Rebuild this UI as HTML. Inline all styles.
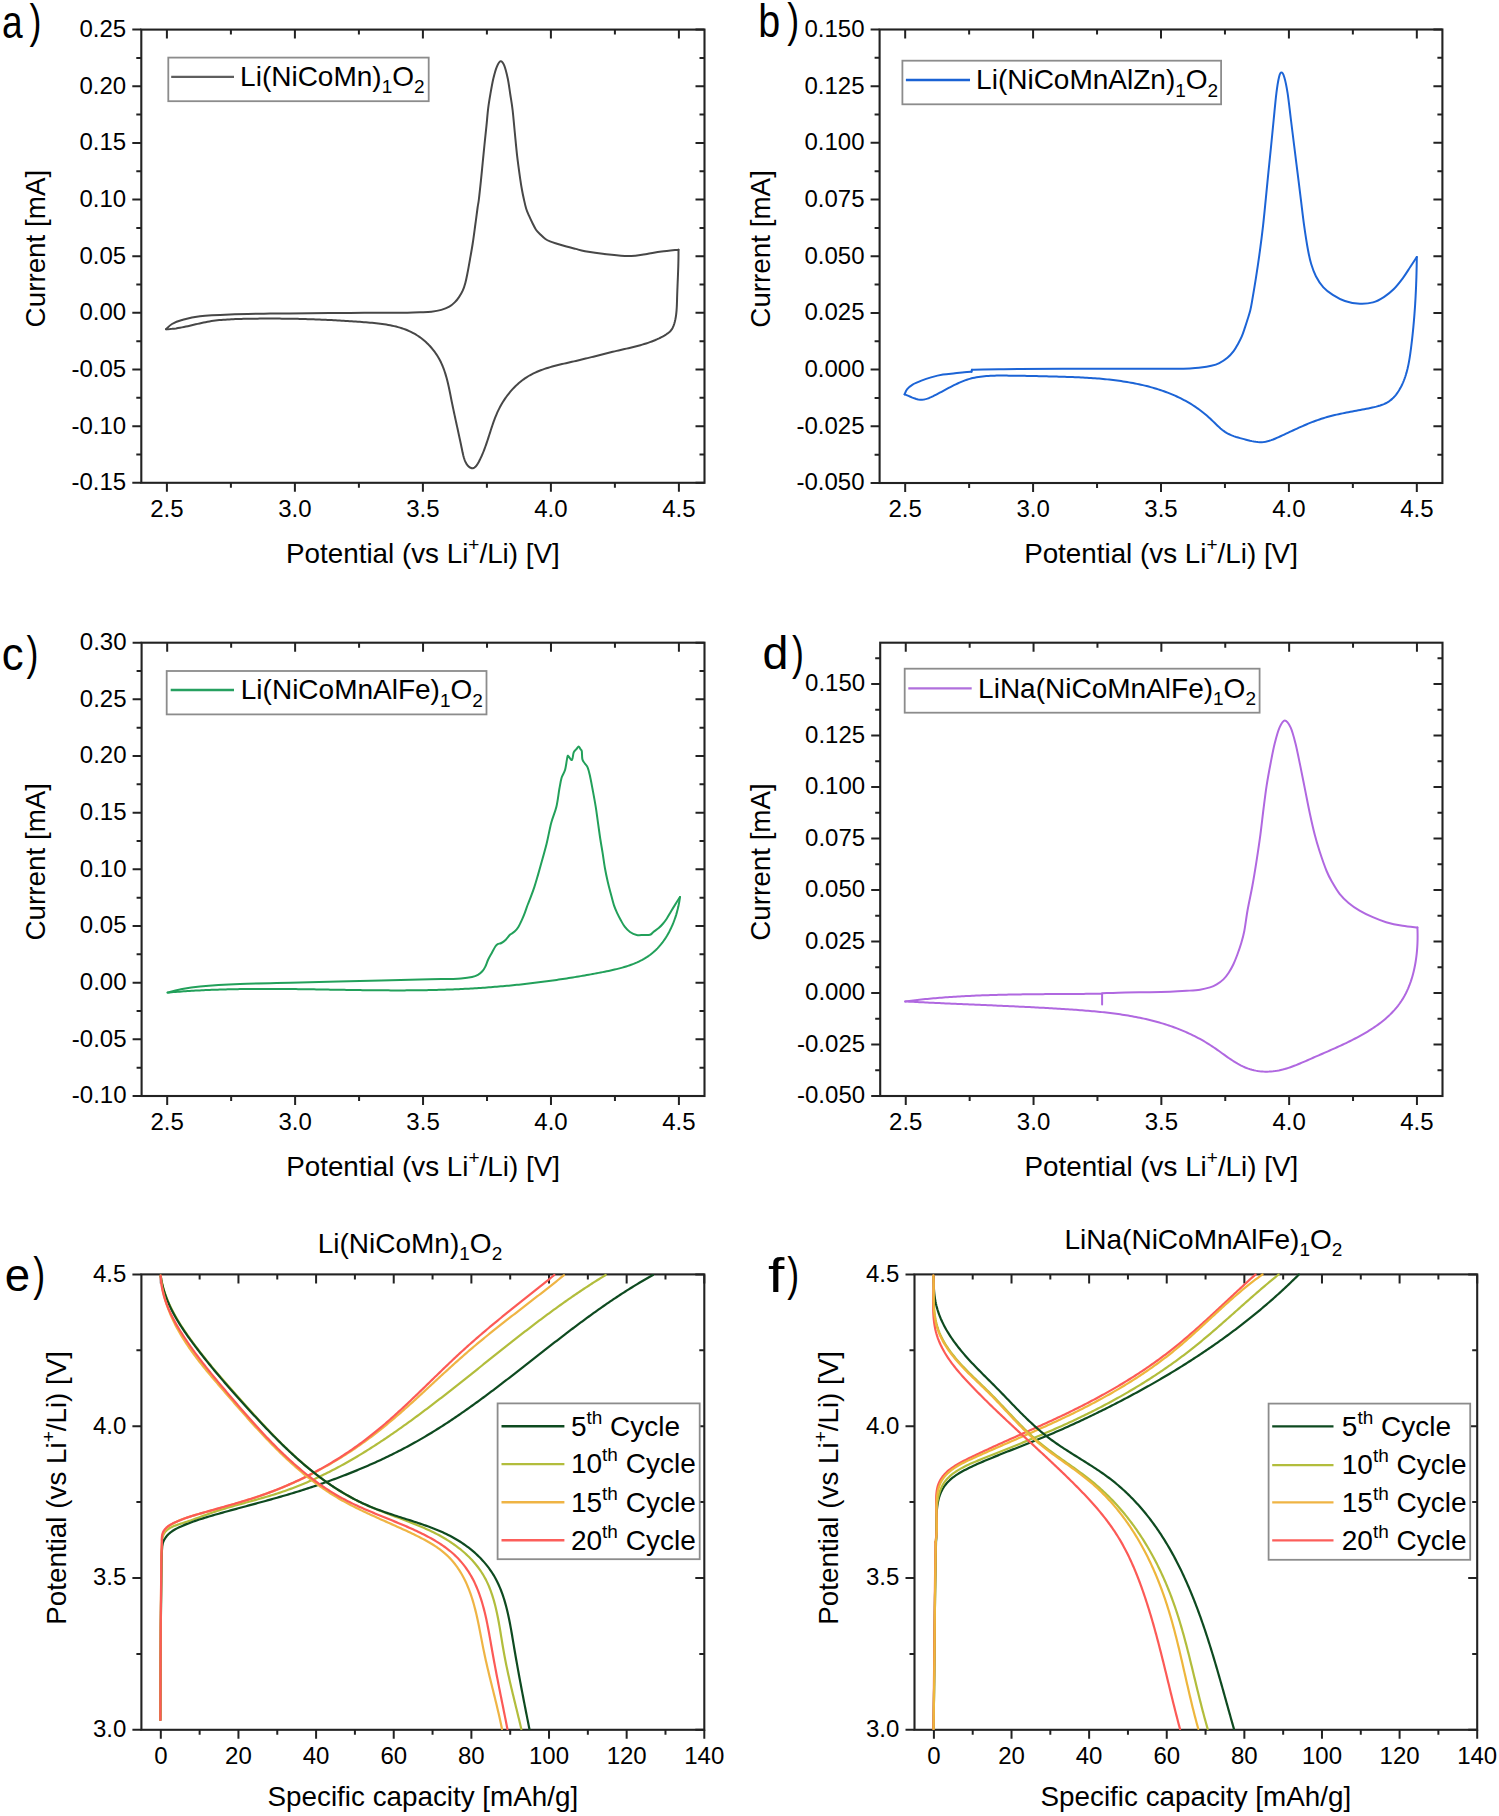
<!DOCTYPE html>
<html><head><meta charset="utf-8"><style>
html,body{margin:0;padding:0;background:#fff;}
svg{display:block;}
text{font-family:"Liberation Sans", sans-serif;fill:#000;}
</style></head><body>
<svg width="1499" height="1816" viewBox="0 0 1499 1816">
<path d="M166.90 482.80V491.80M166.90 29.60V38.60M294.90 482.80V491.80M294.90 29.60V38.60M422.90 482.80V491.80M422.90 29.60V38.60M550.90 482.80V491.80M550.90 29.60V38.60M678.90 482.80V491.80M678.90 29.60V38.60M230.90 482.80V487.80M230.90 29.60V34.60M358.90 482.80V487.80M358.90 29.60V34.60M486.90 482.80V487.80M486.90 29.60V34.60M614.90 482.80V487.80M614.90 29.60V34.60M141.30 482.80H132.30M704.50 482.80H695.50M141.30 454.48H136.30M704.50 454.48H699.50M141.30 426.15H132.30M704.50 426.15H695.50M141.30 397.82H136.30M704.50 397.82H699.50M141.30 369.50H132.30M704.50 369.50H695.50M141.30 341.18H136.30M704.50 341.18H699.50M141.30 312.85H132.30M704.50 312.85H695.50M141.30 284.52H136.30M704.50 284.52H699.50M141.30 256.20H132.30M704.50 256.20H695.50M141.30 227.88H136.30M704.50 227.88H699.50M141.30 199.55H132.30M704.50 199.55H695.50M141.30 171.23H136.30M704.50 171.23H699.50M141.30 142.90H132.30M704.50 142.90H695.50M141.30 114.58H136.30M704.50 114.58H699.50M141.30 86.25H132.30M704.50 86.25H695.50M141.30 57.93H136.30M704.50 57.93H699.50M141.30 29.60H132.30M704.50 29.60H695.50" stroke="#222222" stroke-width="2" fill="none"/>
<rect x="141.30" y="29.60" width="563.20" height="453.20" stroke="#222222" stroke-width="2.1" fill="none"/>
<text x="166.90" y="516.80" text-anchor="middle" font-size="24">2.5</text>
<text x="294.90" y="516.80" text-anchor="middle" font-size="24">3.0</text>
<text x="422.90" y="516.80" text-anchor="middle" font-size="24">3.5</text>
<text x="550.90" y="516.80" text-anchor="middle" font-size="24">4.0</text>
<text x="678.90" y="516.80" text-anchor="middle" font-size="24">4.5</text>
<text x="126.20" y="490.20" text-anchor="end" font-size="24">-0.15</text>
<text x="126.20" y="433.55" text-anchor="end" font-size="24">-0.10</text>
<text x="126.20" y="376.90" text-anchor="end" font-size="24">-0.05</text>
<text x="126.20" y="320.25" text-anchor="end" font-size="24">0.00</text>
<text x="126.20" y="263.60" text-anchor="end" font-size="24">0.05</text>
<text x="126.20" y="206.95" text-anchor="end" font-size="24">0.10</text>
<text x="126.20" y="150.30" text-anchor="end" font-size="24">0.15</text>
<text x="126.20" y="93.65" text-anchor="end" font-size="24">0.20</text>
<text x="126.20" y="37.00" text-anchor="end" font-size="24">0.25</text>
<path d="M905.18 483.00V492.00M905.18 29.50V38.50M1033.09 483.00V492.00M1033.09 29.50V38.50M1161.00 483.00V492.00M1161.00 29.50V38.50M1288.91 483.00V492.00M1288.91 29.50V38.50M1416.82 483.00V492.00M1416.82 29.50V38.50M969.14 483.00V488.00M969.14 29.50V34.50M1097.05 483.00V488.00M1097.05 29.50V34.50M1224.95 483.00V488.00M1224.95 29.50V34.50M1352.86 483.00V488.00M1352.86 29.50V34.50M879.60 483.00H870.60M1442.40 483.00H1433.40M879.60 454.66H874.60M1442.40 454.66H1437.40M879.60 426.31H870.60M1442.40 426.31H1433.40M879.60 397.97H874.60M1442.40 397.97H1437.40M879.60 369.62H870.60M1442.40 369.62H1433.40M879.60 341.28H874.60M1442.40 341.28H1437.40M879.60 312.94H870.60M1442.40 312.94H1433.40M879.60 284.59H874.60M1442.40 284.59H1437.40M879.60 256.25H870.60M1442.40 256.25H1433.40M879.60 227.91H874.60M1442.40 227.91H1437.40M879.60 199.56H870.60M1442.40 199.56H1433.40M879.60 171.22H874.60M1442.40 171.22H1437.40M879.60 142.87H870.60M1442.40 142.87H1433.40M879.60 114.53H874.60M1442.40 114.53H1437.40M879.60 86.19H870.60M1442.40 86.19H1433.40M879.60 57.84H874.60M1442.40 57.84H1437.40M879.60 29.50H870.60M1442.40 29.50H1433.40" stroke="#222222" stroke-width="2" fill="none"/>
<rect x="879.60" y="29.50" width="562.80" height="453.50" stroke="#222222" stroke-width="2.1" fill="none"/>
<text x="905.18" y="517.00" text-anchor="middle" font-size="24">2.5</text>
<text x="1033.09" y="517.00" text-anchor="middle" font-size="24">3.0</text>
<text x="1161.00" y="517.00" text-anchor="middle" font-size="24">3.5</text>
<text x="1288.91" y="517.00" text-anchor="middle" font-size="24">4.0</text>
<text x="1416.82" y="517.00" text-anchor="middle" font-size="24">4.5</text>
<text x="864.50" y="490.40" text-anchor="end" font-size="24">-0.050</text>
<text x="864.50" y="433.71" text-anchor="end" font-size="24">-0.025</text>
<text x="864.50" y="377.02" text-anchor="end" font-size="24">0.000</text>
<text x="864.50" y="320.34" text-anchor="end" font-size="24">0.025</text>
<text x="864.50" y="263.65" text-anchor="end" font-size="24">0.050</text>
<text x="864.50" y="206.96" text-anchor="end" font-size="24">0.075</text>
<text x="864.50" y="150.27" text-anchor="end" font-size="24">0.100</text>
<text x="864.50" y="93.59" text-anchor="end" font-size="24">0.125</text>
<text x="864.50" y="36.90" text-anchor="end" font-size="24">0.150</text>
<path d="M167.19 1096.00V1105.00M167.19 642.70V651.70M295.12 1096.00V1105.00M295.12 642.70V651.70M423.05 1096.00V1105.00M423.05 642.70V651.70M550.98 1096.00V1105.00M550.98 642.70V651.70M678.91 1096.00V1105.00M678.91 642.70V651.70M231.15 1096.00V1101.00M231.15 642.70V647.70M359.08 1096.00V1101.00M359.08 642.70V647.70M487.02 1096.00V1101.00M487.02 642.70V647.70M614.95 1096.00V1101.00M614.95 642.70V647.70M141.60 1096.00H132.60M704.50 1096.00H695.50M141.60 1067.67H136.60M704.50 1067.67H699.50M141.60 1039.34H132.60M704.50 1039.34H695.50M141.60 1011.01H136.60M704.50 1011.01H699.50M141.60 982.67H132.60M704.50 982.67H695.50M141.60 954.34H136.60M704.50 954.34H699.50M141.60 926.01H132.60M704.50 926.01H695.50M141.60 897.68H136.60M704.50 897.68H699.50M141.60 869.35H132.60M704.50 869.35H695.50M141.60 841.02H136.60M704.50 841.02H699.50M141.60 812.69H132.60M704.50 812.69H695.50M141.60 784.36H136.60M704.50 784.36H699.50M141.60 756.02H132.60M704.50 756.02H695.50M141.60 727.69H136.60M704.50 727.69H699.50M141.60 699.36H132.60M704.50 699.36H695.50M141.60 671.03H136.60M704.50 671.03H699.50M141.60 642.70H132.60M704.50 642.70H695.50" stroke="#222222" stroke-width="2" fill="none"/>
<rect x="141.60" y="642.70" width="562.90" height="453.30" stroke="#222222" stroke-width="2.1" fill="none"/>
<text x="167.19" y="1130.00" text-anchor="middle" font-size="24">2.5</text>
<text x="295.12" y="1130.00" text-anchor="middle" font-size="24">3.0</text>
<text x="423.05" y="1130.00" text-anchor="middle" font-size="24">3.5</text>
<text x="550.98" y="1130.00" text-anchor="middle" font-size="24">4.0</text>
<text x="678.91" y="1130.00" text-anchor="middle" font-size="24">4.5</text>
<text x="126.50" y="1103.40" text-anchor="end" font-size="24">-0.10</text>
<text x="126.50" y="1046.74" text-anchor="end" font-size="24">-0.05</text>
<text x="126.50" y="990.07" text-anchor="end" font-size="24">0.00</text>
<text x="126.50" y="933.41" text-anchor="end" font-size="24">0.05</text>
<text x="126.50" y="876.75" text-anchor="end" font-size="24">0.10</text>
<text x="126.50" y="820.09" text-anchor="end" font-size="24">0.15</text>
<text x="126.50" y="763.42" text-anchor="end" font-size="24">0.20</text>
<text x="126.50" y="706.76" text-anchor="end" font-size="24">0.25</text>
<text x="126.50" y="650.10" text-anchor="end" font-size="24">0.30</text>
<path d="M905.76 1096.00V1105.00M905.76 642.70V651.70M1033.55 1096.00V1105.00M1033.55 642.70V651.70M1161.35 1096.00V1105.00M1161.35 642.70V651.70M1289.15 1096.00V1105.00M1289.15 642.70V651.70M1416.94 1096.00V1105.00M1416.94 642.70V651.70M969.66 1096.00V1101.00M969.66 642.70V647.70M1097.45 1096.00V1101.00M1097.45 642.70V647.70M1225.25 1096.00V1101.00M1225.25 642.70V647.70M1353.04 1096.00V1101.00M1353.04 642.70V647.70M880.20 1096.00H871.20M1442.50 1096.00H1433.50M880.20 1070.24H875.20M1442.50 1070.24H1437.50M880.20 1044.49H871.20M1442.50 1044.49H1433.50M880.20 1018.73H875.20M1442.50 1018.73H1437.50M880.20 992.98H871.20M1442.50 992.98H1433.50M880.20 967.22H875.20M1442.50 967.22H1437.50M880.20 941.47H871.20M1442.50 941.47H1433.50M880.20 915.71H875.20M1442.50 915.71H1437.50M880.20 889.95H871.20M1442.50 889.95H1433.50M880.20 864.20H875.20M1442.50 864.20H1437.50M880.20 838.44H871.20M1442.50 838.44H1433.50M880.20 812.69H875.20M1442.50 812.69H1437.50M880.20 786.93H871.20M1442.50 786.93H1433.50M880.20 761.18H875.20M1442.50 761.18H1437.50M880.20 735.42H871.20M1442.50 735.42H1433.50M880.20 709.66H875.20M1442.50 709.66H1437.50M880.20 683.91H871.20M1442.50 683.91H1433.50M880.20 658.15H875.20M1442.50 658.15H1437.50" stroke="#222222" stroke-width="2" fill="none"/>
<rect x="880.20" y="642.70" width="562.30" height="453.30" stroke="#222222" stroke-width="2.1" fill="none"/>
<text x="905.76" y="1130.00" text-anchor="middle" font-size="24">2.5</text>
<text x="1033.55" y="1130.00" text-anchor="middle" font-size="24">3.0</text>
<text x="1161.35" y="1130.00" text-anchor="middle" font-size="24">3.5</text>
<text x="1289.15" y="1130.00" text-anchor="middle" font-size="24">4.0</text>
<text x="1416.94" y="1130.00" text-anchor="middle" font-size="24">4.5</text>
<text x="865.10" y="1103.40" text-anchor="end" font-size="24">-0.050</text>
<text x="865.10" y="1051.89" text-anchor="end" font-size="24">-0.025</text>
<text x="865.10" y="1000.38" text-anchor="end" font-size="24">0.000</text>
<text x="865.10" y="948.87" text-anchor="end" font-size="24">0.025</text>
<text x="865.10" y="897.35" text-anchor="end" font-size="24">0.050</text>
<text x="865.10" y="845.84" text-anchor="end" font-size="24">0.075</text>
<text x="865.10" y="794.33" text-anchor="end" font-size="24">0.100</text>
<text x="865.10" y="742.82" text-anchor="end" font-size="24">0.125</text>
<text x="865.10" y="691.31" text-anchor="end" font-size="24">0.150</text>
<path d="M160.81 1729.80V1738.80M160.81 1274.40V1283.40M238.45 1729.80V1738.80M238.45 1274.40V1283.40M316.09 1729.80V1738.80M316.09 1274.40V1283.40M393.73 1729.80V1738.80M393.73 1274.40V1283.40M471.38 1729.80V1738.80M471.38 1274.40V1283.40M549.02 1729.80V1738.80M549.02 1274.40V1283.40M626.66 1729.80V1738.80M626.66 1274.40V1283.40M704.30 1729.80V1738.80M704.30 1274.40V1283.40M199.63 1729.80V1734.80M199.63 1274.40V1279.40M277.27 1729.80V1734.80M277.27 1274.40V1279.40M354.91 1729.80V1734.80M354.91 1274.40V1279.40M432.56 1729.80V1734.80M432.56 1274.40V1279.40M510.20 1729.80V1734.80M510.20 1274.40V1279.40M587.84 1729.80V1734.80M587.84 1274.40V1279.40M665.48 1729.80V1734.80M665.48 1274.40V1279.40M141.40 1729.80H132.40M704.30 1729.80H695.30M141.40 1653.90H136.40M704.30 1653.90H699.30M141.40 1578.00H132.40M704.30 1578.00H695.30M141.40 1502.10H136.40M704.30 1502.10H699.30M141.40 1426.20H132.40M704.30 1426.20H695.30M141.40 1350.30H136.40M704.30 1350.30H699.30M141.40 1274.40H132.40M704.30 1274.40H695.30" stroke="#222222" stroke-width="2" fill="none"/>
<rect x="141.40" y="1274.40" width="562.90" height="455.40" stroke="#222222" stroke-width="2.1" fill="none"/>
<text x="160.81" y="1763.80" text-anchor="middle" font-size="24">0</text>
<text x="238.45" y="1763.80" text-anchor="middle" font-size="24">20</text>
<text x="316.09" y="1763.80" text-anchor="middle" font-size="24">40</text>
<text x="393.73" y="1763.80" text-anchor="middle" font-size="24">60</text>
<text x="471.38" y="1763.80" text-anchor="middle" font-size="24">80</text>
<text x="549.02" y="1763.80" text-anchor="middle" font-size="24">100</text>
<text x="626.66" y="1763.80" text-anchor="middle" font-size="24">120</text>
<text x="704.30" y="1763.80" text-anchor="middle" font-size="24">140</text>
<text x="126.30" y="1737.20" text-anchor="end" font-size="24">3.0</text>
<text x="126.30" y="1585.40" text-anchor="end" font-size="24">3.5</text>
<text x="126.30" y="1433.60" text-anchor="end" font-size="24">4.0</text>
<text x="126.30" y="1281.80" text-anchor="end" font-size="24">4.5</text>
<path d="M933.90 1729.80V1738.80M933.90 1274.40V1283.40M1011.52 1729.80V1738.80M1011.52 1274.40V1283.40M1089.13 1729.80V1738.80M1089.13 1274.40V1283.40M1166.74 1729.80V1738.80M1166.74 1274.40V1283.40M1244.36 1729.80V1738.80M1244.36 1274.40V1283.40M1321.97 1729.80V1738.80M1321.97 1274.40V1283.40M1399.59 1729.80V1738.80M1399.59 1274.40V1283.40M1477.20 1729.80V1738.80M1477.20 1274.40V1283.40M972.71 1729.80V1734.80M972.71 1274.40V1279.40M1050.32 1729.80V1734.80M1050.32 1274.40V1279.40M1127.94 1729.80V1734.80M1127.94 1274.40V1279.40M1205.55 1729.80V1734.80M1205.55 1274.40V1279.40M1283.17 1729.80V1734.80M1283.17 1274.40V1279.40M1360.78 1729.80V1734.80M1360.78 1274.40V1279.40M1438.39 1729.80V1734.80M1438.39 1274.40V1279.40M914.50 1729.80H905.50M1477.20 1729.80H1468.20M914.50 1653.90H909.50M1477.20 1653.90H1472.20M914.50 1578.00H905.50M1477.20 1578.00H1468.20M914.50 1502.10H909.50M1477.20 1502.10H1472.20M914.50 1426.20H905.50M1477.20 1426.20H1468.20M914.50 1350.30H909.50M1477.20 1350.30H1472.20M914.50 1274.40H905.50M1477.20 1274.40H1468.20" stroke="#222222" stroke-width="2" fill="none"/>
<rect x="914.50" y="1274.40" width="562.70" height="455.40" stroke="#222222" stroke-width="2.1" fill="none"/>
<text x="933.90" y="1763.80" text-anchor="middle" font-size="24">0</text>
<text x="1011.52" y="1763.80" text-anchor="middle" font-size="24">20</text>
<text x="1089.13" y="1763.80" text-anchor="middle" font-size="24">40</text>
<text x="1166.74" y="1763.80" text-anchor="middle" font-size="24">60</text>
<text x="1244.36" y="1763.80" text-anchor="middle" font-size="24">80</text>
<text x="1321.97" y="1763.80" text-anchor="middle" font-size="24">100</text>
<text x="1399.59" y="1763.80" text-anchor="middle" font-size="24">120</text>
<text x="1477.20" y="1763.80" text-anchor="middle" font-size="24">140</text>
<text x="899.40" y="1737.20" text-anchor="end" font-size="24">3.0</text>
<text x="899.40" y="1585.40" text-anchor="end" font-size="24">3.5</text>
<text x="899.40" y="1433.60" text-anchor="end" font-size="24">4.0</text>
<text x="899.40" y="1281.80" text-anchor="end" font-size="24">4.5</text>
<text x="422.90" y="562.50" text-anchor="middle" font-size="27.8">Potential (vs Li<tspan dy="-11.3" font-size="19">+</tspan><tspan dy="11.3">/Li) [V]</tspan></text>
<text x="1161.00" y="562.70" text-anchor="middle" font-size="27.8">Potential (vs Li<tspan dy="-11.3" font-size="19">+</tspan><tspan dy="11.3">/Li) [V]</tspan></text>
<text x="423.05" y="1175.70" text-anchor="middle" font-size="27.8">Potential (vs Li<tspan dy="-11.3" font-size="19">+</tspan><tspan dy="11.3">/Li) [V]</tspan></text>
<text x="1161.35" y="1175.70" text-anchor="middle" font-size="27.8">Potential (vs Li<tspan dy="-11.3" font-size="19">+</tspan><tspan dy="11.3">/Li) [V]</tspan></text>
<text x="422.85" y="1806.10" text-anchor="middle" font-size="27.8">Specific capacity [mAh/g]</text>
<text x="1195.85" y="1806.10" text-anchor="middle" font-size="27.8">Specific capacity [mAh/g]</text>
<text transform="translate(45.0,248.6) rotate(-90)" text-anchor="middle" font-size="27.8">Current [mA]</text>
<text transform="translate(769.6,248.9) rotate(-90)" text-anchor="middle" font-size="27.8">Current [mA]</text>
<text transform="translate(45.0,861.7) rotate(-90)" text-anchor="middle" font-size="27.8">Current [mA]</text>
<text transform="translate(769.6,862.0) rotate(-90)" text-anchor="middle" font-size="27.8">Current [mA]</text>
<text transform="translate(65.8,1487.8) rotate(-90)" text-anchor="middle" font-size="27.8">Potential (vs Li<tspan dy="-11.3" font-size="19">+</tspan><tspan dy="11.3">/Li) [V]</tspan></text>
<text transform="translate(838.4,1487.8) rotate(-90)" text-anchor="middle" font-size="27.8">Potential (vs Li<tspan dy="-11.3" font-size="19">+</tspan><tspan dy="11.3">/Li) [V]</tspan></text>
<text transform="translate(1.94,37.7) scale(0.79,1)" font-size="47">a</text>
<text transform="translate(29.39,37.0) scale(0.76,1)" font-size="47">)</text>
<text transform="translate(758.27,37.4) scale(0.84,1)" font-size="47">b</text>
<text transform="translate(787.29,36.2) scale(0.76,1)" font-size="47">)</text>
<text transform="translate(1.86,669.7) scale(0.93,1)" font-size="47">c</text>
<text transform="translate(26.49,668.5) scale(0.76,1)" font-size="47">)</text>
<text transform="translate(762.55,669.1) scale(0.99,1)" font-size="47">d</text>
<text transform="translate(792.09,668.5) scale(0.76,1)" font-size="47">)</text>
<text transform="translate(4.79,1290.9) scale(0.97,1)" font-size="47">e</text>
<text transform="translate(33.19,1290.3) scale(0.76,1)" font-size="47">)</text>
<text transform="translate(767.88,1292) scale(1.2,1)" font-size="49">f</text>
<text transform="translate(787.19,1290.3) scale(0.76,1)" font-size="47">)</text>
<text x="317.7" y="1252.8" font-size="28">Li(NiCoMn)<tspan dy="7.5" font-size="19">1</tspan><tspan dy="-7.5">O</tspan><tspan dy="7.5" font-size="19">2</tspan></text>
<text x="1064.5" y="1248.5" font-size="28">LiNa(NiCoMnAlFe)<tspan dy="7.5" font-size="19">1</tspan><tspan dy="-7.5">O</tspan><tspan dy="7.5" font-size="19">2</tspan></text>
<path d="M166.00 329.20 C167.00 328.33 169.33 325.53 172.00 324.00 C174.67 322.47 177.33 321.30 182.00 320.00 C186.67 318.70 192.00 317.13 200.00 316.20 C208.00 315.27 218.33 314.83 230.00 314.40 C241.67 313.97 256.67 313.80 270.00 313.60 C283.33 313.40 296.67 313.32 310.00 313.20 C323.33 313.08 336.67 312.97 350.00 312.90 C363.33 312.83 380.43 312.83 390.00 312.80 C399.57 312.77 402.40 312.78 407.40 312.70 C412.40 312.62 416.00 312.47 420.00 312.30 C424.00 312.13 427.85 312.10 431.40 311.70 C434.95 311.30 438.32 310.73 441.30 309.90 C444.28 309.07 447.07 307.95 449.30 306.70 C451.53 305.45 453.08 304.00 454.70 302.40 C456.32 300.80 457.67 299.05 459.00 297.10 C460.33 295.15 461.63 293.10 462.70 290.70 C463.77 288.30 464.62 285.57 465.40 282.70 C466.18 279.83 466.65 277.32 467.40 273.50 C468.15 269.68 469.02 264.80 469.90 259.80 C470.78 254.80 471.78 249.47 472.70 243.50 C473.62 237.53 474.58 230.00 475.40 224.00 C476.22 218.00 477.03 211.50 477.60 207.50 C478.17 203.50 478.25 204.43 478.80 200.00 C479.35 195.57 480.25 187.12 480.90 180.90 C481.55 174.68 482.10 168.77 482.70 162.70 C483.30 156.63 483.88 150.55 484.50 144.50 C485.12 138.45 485.78 132.45 486.40 126.40 C487.02 120.35 487.53 113.60 488.20 108.20 C488.87 102.80 489.55 98.90 490.40 94.00 C491.25 89.10 492.22 83.37 493.30 78.80 C494.38 74.23 495.68 69.53 496.90 66.60 C498.12 63.67 499.38 61.40 500.60 61.20 C501.82 61.00 503.00 62.47 504.20 65.40 C505.40 68.33 506.78 73.95 507.80 78.80 C508.82 83.65 509.50 89.30 510.30 94.50 C511.10 99.70 511.85 103.67 512.60 110.00 C513.35 116.33 514.05 124.90 514.80 132.50 C515.55 140.10 516.20 147.88 517.10 155.60 C518.00 163.32 519.38 173.07 520.20 178.80 C521.02 184.53 521.38 186.58 522.00 190.00 C522.62 193.42 523.20 196.18 523.90 199.30 C524.60 202.42 525.35 205.97 526.20 208.70 C527.05 211.43 527.98 213.37 529.00 215.70 C530.02 218.03 531.13 220.37 532.30 222.70 C533.47 225.03 534.60 227.68 536.00 229.70 C537.40 231.72 539.13 233.25 540.70 234.80 C542.27 236.35 543.85 237.90 545.40 239.00 C546.95 240.10 548.07 240.62 550.00 241.40 C551.93 242.18 554.27 242.85 557.00 243.70 C559.73 244.55 563.28 245.63 566.40 246.50 C569.52 247.37 572.60 248.12 575.70 248.90 C578.80 249.68 579.88 250.30 585.00 251.20 C590.12 252.10 599.77 253.50 606.40 254.30 C613.03 255.10 619.97 255.77 624.80 256.00 C629.63 256.23 631.70 256.03 635.40 255.70 C639.10 255.37 642.63 254.68 647.00 254.00 C651.37 253.32 656.35 252.32 661.60 251.60 C666.85 250.88 675.68 250.02 678.50 249.70" stroke="#474747" stroke-width="2" fill="none" stroke-linejoin="round" stroke-linecap="round"/>
<path d="M678.50 249.70 L678.51 251.73 L678.50 253.75 L678.49 255.77 L678.46 257.79 L678.43 259.80 L678.39 261.81 L678.34 263.81 L678.29 265.81 L678.23 267.82 L678.16 269.81 L678.09 271.81 L678.02 273.81 L677.94 275.80 L677.86 277.80 L677.78 279.80 L677.69 281.79 L677.61 283.79 L677.53 285.79 L677.45 287.80 L677.37 289.80 L677.30 291.81 L677.22 293.82 L677.16 295.84 L677.09 297.86 L677.04 299.89 L676.98 301.92 L676.91 303.95 L676.83 305.98 L676.72 308.01 L676.59 310.04 L676.41 312.06 L676.20 314.07 L675.93 316.08 L675.60 318.08 L675.21 320.06 L674.74 322.04 L674.19 323.99 L673.53 325.90 L672.73 327.72 L671.75 329.40 L670.56 330.91 L669.18 332.25 L667.64 333.45 L666.01 334.54 L664.32 335.57 L662.60 336.55 L660.86 337.48 L659.09 338.36 L657.30 339.20 L655.48 340.00 L653.64 340.76 L651.79 341.48 L649.91 342.17 L648.02 342.83 L646.11 343.46 L644.19 344.06 L642.26 344.64 L640.32 345.19 L638.36 345.73 L636.40 346.24 L634.43 346.74 L632.46 347.23 L630.48 347.70 L628.50 348.17 L626.51 348.63 L624.53 349.08 L622.55 349.53 L620.58 349.99 L618.60 350.44 L616.64 350.90 L614.68 351.36 L612.72 351.83 L610.77 352.31 L608.83 352.78 L606.89 353.26 L604.95 353.74 L603.02 354.23 L601.08 354.71 L599.15 355.20 L597.22 355.69 L595.29 356.18 L593.36 356.66 L591.43 357.15 L589.50 357.63 L587.57 358.11 L585.63 358.59 L583.69 359.07 L581.74 359.54 L579.80 360.01 L577.84 360.47 L575.88 360.93 L573.92 361.38 L571.95 361.83 L569.97 362.28 L567.99 362.72 L566.01 363.17 L564.03 363.62 L562.05 364.08 L560.07 364.54 L558.10 365.02 L556.13 365.51 L554.17 366.02 L552.21 366.55 L550.27 367.10 L548.34 367.68 L546.42 368.28 L544.52 368.91 L542.63 369.57 L540.76 370.26 L538.90 370.99 L537.07 371.76 L535.26 372.57 L533.47 373.42 L531.70 374.31 L529.96 375.26 L528.25 376.26 L526.56 377.31 L524.91 378.41 L523.29 379.56 L521.69 380.76 L520.13 382.02 L518.60 383.31 L517.11 384.65 L515.65 386.04 L514.22 387.46 L512.82 388.93 L511.47 390.43 L510.15 391.96 L508.86 393.53 L507.61 395.13 L506.40 396.76 L505.23 398.41 L504.10 400.10 L503.01 401.80 L501.96 403.53 L500.95 405.28 L499.99 407.05 L499.06 408.84 L498.18 410.64 L497.34 412.45 L496.54 414.28 L495.78 416.12 L495.04 417.97 L494.33 419.84 L493.65 421.71 L492.98 423.59 L492.34 425.48 L491.70 427.37 L491.08 429.27 L490.47 431.18 L489.86 433.09 L489.25 435.00 L488.64 436.92 L488.02 438.84 L487.39 440.76 L486.75 442.68 L486.09 444.60 L485.41 446.52 L484.71 448.43 L483.99 450.35 L483.23 452.25 L482.44 454.16 L481.61 456.05 L480.75 457.94 L479.84 459.83 L478.88 461.70 L477.87 463.50 L476.81 465.13 L475.68 466.52 L474.49 467.55 L473.22 468.15 L471.88 468.22 L470.49 467.79 L469.15 466.94 L467.92 465.79 L466.84 464.42 L465.91 462.85 L465.10 461.12 L464.39 459.25 L463.77 457.27 L463.23 455.21 L462.73 453.09 L462.28 450.94 L461.84 448.80 L461.40 446.68 L460.96 444.58 L460.53 442.51 L460.10 440.46 L459.66 438.43 L459.23 436.42 L458.80 434.43 L458.37 432.46 L457.94 430.50 L457.52 428.55 L457.09 426.61 L456.67 424.68 L456.25 422.76 L455.83 420.85 L455.41 418.94 L455.00 417.03 L454.58 415.13 L454.17 413.22 L453.76 411.31 L453.36 409.40 L452.95 407.48 L452.55 405.55 L452.15 403.62 L451.76 401.68 L451.36 399.72 L450.97 397.75 L450.58 395.77 L450.19 393.78 L449.78 391.79 L449.37 389.79 L448.95 387.79 L448.51 385.79 L448.06 383.79 L447.58 381.79 L447.08 379.81 L446.55 377.83 L446.00 375.86 L445.41 373.90 L444.79 371.96 L444.13 370.04 L443.43 368.14 L442.69 366.25 L441.90 364.40 L441.07 362.56 L440.18 360.76 L439.24 358.98 L438.24 357.24 L437.19 355.53 L436.09 353.85 L434.94 352.21 L433.74 350.60 L432.50 349.04 L431.21 347.51 L429.87 346.03 L428.49 344.58 L427.08 343.18 L425.62 341.83 L424.12 340.52 L422.59 339.26 L421.02 338.05 L419.41 336.89 L417.78 335.78 L416.11 334.72 L414.41 333.72 L412.69 332.78 L410.93 331.89 L409.15 331.06 L407.35 330.28 L405.52 329.55 L403.67 328.87 L401.80 328.23 L399.91 327.64 L398.01 327.10 L396.08 326.59 L394.14 326.12 L392.18 325.68 L390.21 325.28 L388.23 324.92 L386.23 324.58 L384.23 324.26 L382.22 323.98 L380.20 323.71 L378.17 323.47 L376.14 323.24 L374.10 323.03 L372.06 322.84 L370.02 322.65 L367.98 322.48 L365.94 322.31 L363.90 322.15 L361.87 322.00 L359.83 321.84 L357.80 321.70 L355.78 321.55 L353.75 321.41 L351.73 321.27 L349.71 321.14 L347.69 321.00 L345.68 320.88 L343.67 320.75 L341.66 320.63 L339.65 320.52 L337.64 320.40 L335.63 320.30 L333.63 320.19 L331.63 320.09 L329.63 319.99 L327.63 319.89 L325.63 319.80 L323.63 319.71 L321.63 319.63 L319.64 319.55 L317.64 319.47 L315.65 319.39 L313.65 319.32 L311.66 319.25 L309.67 319.19 L307.67 319.13 L305.68 319.07 L303.69 319.01 L301.70 318.96 L299.70 318.91 L297.71 318.87 L295.71 318.83 L293.72 318.79 L291.72 318.75 L289.73 318.72 L287.73 318.69 L285.73 318.67 L283.74 318.64 L281.74 318.63 L279.73 318.61 L277.73 318.60 L275.73 318.59 L273.72 318.58 L271.72 318.57 L269.71 318.57 L267.70 318.58 L265.68 318.58 L263.67 318.59 L261.65 318.60 L259.63 318.61 L257.61 318.63 L255.59 318.65 L253.56 318.67 L251.53 318.70 L249.50 318.73 L247.47 318.77 L245.44 318.81 L243.41 318.85 L241.38 318.91 L239.36 318.97 L237.33 319.04 L235.31 319.11 L233.30 319.19 L231.29 319.29 L229.28 319.39 L227.28 319.51 L225.28 319.63 L223.29 319.78 L221.31 319.94 L219.32 320.12 L217.34 320.32 L215.37 320.55 L213.40 320.81 L211.43 321.10 L209.46 321.42 L207.49 321.77 L205.52 322.15 L203.56 322.55 L201.59 322.98 L199.63 323.42 L197.67 323.87 L195.70 324.33 L193.74 324.79 L191.77 325.25 L189.80 325.71 L187.84 326.15 L185.87 326.58 L183.89 327.00 L181.92 327.39 L179.94 327.75 L177.96 328.09 L175.98 328.39 L173.99 328.64 L172.00 328.86 L170.00 329.03 L168.00 329.14 L166.00 329.20" stroke="#474747" stroke-width="2" fill="none" stroke-linejoin="round" stroke-linecap="round"/>
<path d="M904.60 394.40 C905.00 393.57 905.67 391.03 907.00 389.40 C908.33 387.77 910.20 386.07 912.60 384.60 C915.00 383.13 918.33 381.80 921.40 380.60 C924.47 379.40 927.40 378.40 931.00 377.40 C934.60 376.40 939.00 375.28 943.00 374.60 C947.00 373.92 951.00 373.73 955.00 373.30 C959.00 372.87 964.25 372.25 967.00 372.00 C969.75 371.75 970.75 371.83 971.50 371.80" stroke="#1c64d6" stroke-width="2" fill="none" stroke-linejoin="round" stroke-linecap="round"/>
<path d="M971.50 371.80 L971.90 369.80" stroke="#1c64d6" stroke-width="2" fill="none" stroke-linejoin="round" stroke-linecap="round"/>
<path d="M971.90 369.80 C973.75 369.75 978.48 369.58 983.00 369.50 C987.52 369.42 992.90 369.40 999.00 369.30 C1005.10 369.20 1004.43 368.98 1019.60 368.90 C1034.77 368.82 1067.60 368.82 1090.00 368.80 C1112.40 368.78 1137.33 368.87 1154.00 368.80 C1170.67 368.73 1182.22 368.60 1190.00 368.40 C1197.78 368.20 1197.15 368.03 1200.70 367.60 C1204.25 367.17 1208.20 366.55 1211.30 365.80 C1214.40 365.05 1216.62 364.43 1219.30 363.10 C1221.98 361.77 1224.98 359.85 1227.40 357.80 C1229.82 355.75 1232.03 353.12 1233.80 350.80 C1235.57 348.48 1236.67 346.30 1238.00 343.90 C1239.33 341.50 1240.63 339.15 1241.80 336.40 C1242.97 333.65 1244.03 330.25 1245.00 327.40 C1245.97 324.55 1246.72 322.15 1247.60 319.30 C1248.48 316.45 1249.53 313.45 1250.30 310.30 C1251.07 307.15 1251.27 305.75 1252.20 300.40 C1253.13 295.05 1254.63 286.32 1255.90 278.20 C1257.17 270.08 1258.60 260.52 1259.80 251.70 C1261.00 242.88 1262.10 234.12 1263.10 225.30 C1264.10 216.48 1264.92 207.62 1265.80 198.80 C1266.68 189.98 1267.52 181.20 1268.40 172.40 C1269.28 163.60 1270.22 154.82 1271.10 146.00 C1271.98 137.18 1272.82 128.32 1273.70 119.50 C1274.58 110.68 1275.52 100.15 1276.40 93.10 C1277.28 86.05 1278.17 80.62 1279.00 77.20 C1279.83 73.78 1280.52 72.60 1281.40 72.60 C1282.28 72.60 1283.27 73.78 1284.30 77.20 C1285.33 80.62 1286.50 86.05 1287.60 93.10 C1288.70 100.15 1289.80 110.68 1290.90 119.50 C1292.00 128.32 1293.10 137.18 1294.20 146.00 C1295.30 154.82 1296.40 163.60 1297.50 172.40 C1298.60 181.20 1299.70 189.98 1300.80 198.80 C1301.90 207.62 1302.90 216.77 1304.10 225.30 C1305.30 233.83 1306.82 243.55 1308.00 250.00 C1309.18 256.45 1309.88 259.63 1311.20 264.00 C1312.52 268.37 1313.87 272.30 1315.90 276.20 C1317.93 280.10 1320.58 284.28 1323.40 287.40 C1326.22 290.52 1329.22 292.63 1332.80 294.90 C1336.38 297.17 1340.38 299.52 1344.90 301.00 C1349.42 302.48 1355.22 303.57 1359.90 303.80 C1364.58 304.03 1368.95 303.57 1373.00 302.40 C1377.05 301.23 1380.77 298.98 1384.20 296.80 C1387.63 294.62 1390.48 292.42 1393.60 289.30 C1396.72 286.18 1400.10 281.85 1402.90 278.10 C1405.70 274.35 1408.08 270.32 1410.40 266.80 C1412.72 263.28 1415.73 258.63 1416.80 257.00" stroke="#1c64d6" stroke-width="2" fill="none" stroke-linejoin="round" stroke-linecap="round"/>
<path d="M1416.80 257.00 L1416.77 259.01 L1416.75 261.03 L1416.72 263.04 L1416.68 265.06 L1416.65 267.07 L1416.60 269.08 L1416.56 271.09 L1416.51 273.10 L1416.45 275.11 L1416.40 277.12 L1416.33 279.13 L1416.27 281.14 L1416.19 283.14 L1416.12 285.15 L1416.04 287.15 L1415.95 289.16 L1415.86 291.16 L1415.76 293.17 L1415.66 295.17 L1415.56 297.18 L1415.45 299.18 L1415.33 301.18 L1415.21 303.18 L1415.09 305.19 L1414.96 307.19 L1414.82 309.19 L1414.68 311.19 L1414.53 313.19 L1414.38 315.19 L1414.22 317.19 L1414.06 319.19 L1413.89 321.19 L1413.71 323.19 L1413.53 325.19 L1413.35 327.19 L1413.15 329.19 L1412.96 331.19 L1412.75 333.19 L1412.54 335.19 L1412.32 337.19 L1412.10 339.19 L1411.87 341.19 L1411.63 343.19 L1411.39 345.19 L1411.14 347.19 L1410.89 349.19 L1410.62 351.19 L1410.35 353.19 L1410.06 355.18 L1409.76 357.18 L1409.43 359.17 L1409.09 361.15 L1408.72 363.13 L1408.33 365.10 L1407.90 367.06 L1407.45 369.02 L1406.95 370.96 L1406.43 372.90 L1405.86 374.82 L1405.24 376.73 L1404.58 378.62 L1403.87 380.50 L1403.12 382.36 L1402.30 384.21 L1401.43 386.04 L1400.50 387.84 L1399.51 389.60 L1398.46 391.31 L1397.34 392.97 L1396.15 394.57 L1394.89 396.09 L1393.56 397.53 L1392.16 398.89 L1390.67 400.14 L1389.11 401.29 L1387.46 402.32 L1385.74 403.25 L1383.96 404.07 L1382.11 404.81 L1380.22 405.47 L1378.29 406.07 L1376.32 406.61 L1374.33 407.10 L1372.33 407.56 L1370.32 407.99 L1368.31 408.41 L1366.31 408.82 L1364.31 409.21 L1362.31 409.60 L1360.31 409.98 L1358.32 410.35 L1356.33 410.72 L1354.35 411.09 L1352.37 411.46 L1350.40 411.83 L1348.42 412.20 L1346.46 412.58 L1344.50 412.97 L1342.54 413.36 L1340.59 413.77 L1338.64 414.19 L1336.69 414.62 L1334.76 415.07 L1332.82 415.53 L1330.90 416.02 L1328.98 416.52 L1327.06 417.05 L1325.15 417.61 L1323.25 418.19 L1321.35 418.80 L1319.46 419.43 L1317.57 420.09 L1315.69 420.77 L1313.81 421.47 L1311.94 422.19 L1310.07 422.93 L1308.20 423.69 L1306.34 424.46 L1304.48 425.25 L1302.63 426.06 L1300.78 426.87 L1298.93 427.70 L1297.08 428.54 L1295.23 429.38 L1293.39 430.23 L1291.55 431.09 L1289.71 431.95 L1287.86 432.81 L1286.02 433.68 L1284.18 434.54 L1282.34 435.41 L1280.50 436.27 L1278.66 437.12 L1276.81 437.95 L1274.96 438.74 L1273.11 439.49 L1271.24 440.17 L1269.37 440.77 L1267.49 441.28 L1265.60 441.69 L1263.69 441.97 L1261.77 442.13 L1259.84 442.15 L1257.89 442.04 L1255.93 441.82 L1253.96 441.50 L1251.98 441.11 L1249.99 440.67 L1248.00 440.18 L1246.01 439.67 L1244.02 439.15 L1242.04 438.63 L1240.06 438.10 L1238.10 437.55 L1236.16 436.96 L1234.25 436.33 L1232.37 435.64 L1230.53 434.87 L1228.74 434.03 L1226.99 433.10 L1225.30 432.06 L1223.67 430.93 L1222.08 429.71 L1220.52 428.42 L1219.00 427.08 L1217.50 425.69 L1216.02 424.27 L1214.55 422.83 L1213.07 421.39 L1211.60 419.95 L1210.11 418.54 L1208.60 417.16 L1207.07 415.81 L1205.53 414.49 L1203.96 413.20 L1202.38 411.94 L1200.79 410.72 L1199.17 409.52 L1197.54 408.35 L1195.90 407.21 L1194.23 406.11 L1192.56 405.03 L1190.86 403.97 L1189.16 402.95 L1187.44 401.95 L1185.70 400.98 L1183.95 400.04 L1182.19 399.12 L1180.42 398.23 L1178.63 397.36 L1176.83 396.52 L1175.02 395.70 L1173.20 394.91 L1171.37 394.14 L1169.53 393.39 L1167.67 392.67 L1165.81 391.96 L1163.94 391.28 L1162.06 390.63 L1160.17 389.99 L1158.27 389.37 L1156.36 388.78 L1154.45 388.20 L1152.53 387.65 L1150.60 387.11 L1148.66 386.59 L1146.72 386.09 L1144.78 385.61 L1142.83 385.15 L1140.87 384.70 L1138.91 384.27 L1136.94 383.86 L1134.97 383.46 L1133.00 383.08 L1131.02 382.71 L1129.04 382.36 L1127.06 382.02 L1125.07 381.70 L1123.09 381.39 L1121.10 381.09 L1119.10 380.81 L1117.11 380.54 L1115.11 380.28 L1113.11 380.04 L1111.11 379.80 L1109.11 379.58 L1107.11 379.37 L1105.10 379.17 L1103.09 378.98 L1101.08 378.79 L1099.07 378.62 L1097.06 378.46 L1095.05 378.31 L1093.04 378.16 L1091.03 378.02 L1089.01 377.89 L1087.00 377.77 L1084.98 377.66 L1082.97 377.55 L1080.95 377.45 L1078.94 377.35 L1076.92 377.26 L1074.91 377.18 L1072.89 377.10 L1070.88 377.02 L1068.86 376.95 L1066.85 376.89 L1064.84 376.82 L1062.83 376.76 L1060.82 376.70 L1058.81 376.65 L1056.80 376.60 L1054.79 376.55 L1052.79 376.50 L1050.79 376.45 L1048.79 376.40 L1046.79 376.35 L1044.79 376.31 L1042.79 376.26 L1040.80 376.21 L1038.80 376.17 L1036.81 376.12 L1034.82 376.08 L1032.83 376.03 L1030.84 375.99 L1028.84 375.95 L1026.85 375.91 L1024.85 375.87 L1022.86 375.83 L1020.86 375.80 L1018.86 375.76 L1016.85 375.73 L1014.85 375.70 L1012.84 375.68 L1010.82 375.65 L1008.81 375.63 L1006.78 375.62 L1004.76 375.60 L1002.73 375.59 L1000.69 375.59 L998.66 375.60 L996.62 375.62 L994.58 375.65 L992.54 375.71 L990.51 375.79 L988.48 375.89 L986.46 376.03 L984.44 376.20 L982.44 376.40 L980.44 376.65 L978.45 376.93 L976.48 377.27 L974.52 377.65 L972.58 378.09 L970.65 378.59 L968.74 379.14 L966.85 379.75 L964.97 380.40 L963.11 381.11 L961.26 381.86 L959.43 382.64 L957.61 383.47 L955.79 384.32 L953.99 385.20 L952.20 386.10 L950.41 387.02 L948.63 387.95 L946.86 388.90 L945.09 389.85 L943.33 390.81 L941.57 391.76 L939.81 392.71 L938.06 393.65 L936.30 394.57 L934.54 395.48 L932.78 396.36 L931.02 397.19 L929.24 397.95 L927.46 398.60 L925.65 399.13 L923.83 399.50 L921.98 399.69 L920.11 399.67 L918.20 399.42 L916.27 398.95 L914.32 398.32 L912.36 397.57 L910.40 396.76 L908.45 395.92 L906.51 395.12 L904.60 394.39" stroke="#1c64d6" stroke-width="2" fill="none" stroke-linejoin="round" stroke-linecap="round"/>
<path d="M167.60 992.60 C169.67 992.07 174.60 990.43 180.00 989.40 C185.40 988.37 190.00 987.30 200.00 986.40 C210.00 985.50 223.33 984.63 240.00 984.00 C256.67 983.37 280.00 983.10 300.00 982.60 C320.00 982.10 340.00 981.53 360.00 981.00 C380.00 980.47 405.00 979.73 420.00 979.40 C435.00 979.07 443.17 979.13 450.00 979.00 C456.83 978.87 457.33 978.92 461.00 978.60 C464.67 978.28 469.18 977.72 472.00 977.10 C474.82 976.48 476.18 975.87 477.90 974.90 C479.62 973.93 481.08 972.63 482.30 971.30 C483.52 969.97 484.22 968.87 485.20 966.90 C486.18 964.93 487.10 961.83 488.20 959.50 C489.30 957.17 490.58 955.10 491.80 952.90 C493.02 950.70 494.52 947.77 495.50 946.30 C496.48 944.83 496.72 944.65 497.70 944.10 C498.68 943.55 500.05 943.73 501.40 943.00 C502.75 942.27 504.33 941.10 505.80 939.70 C507.27 938.30 508.73 935.95 510.20 934.60 C511.67 933.25 513.27 932.83 514.60 931.60 C515.93 930.37 516.98 929.15 518.20 927.20 C519.42 925.25 520.78 922.33 521.90 919.90 C523.02 917.47 523.92 915.17 524.90 912.60 C525.88 910.03 526.83 907.07 527.80 904.50 C528.77 901.93 529.60 900.13 530.70 897.20 C531.80 894.27 533.30 890.22 534.40 886.90 C535.50 883.58 536.28 880.78 537.30 877.30 C538.32 873.82 538.95 871.60 540.50 866.00 C542.05 860.40 544.82 850.88 546.60 843.70 C548.38 836.52 549.57 829.07 551.20 822.90 C552.83 816.73 555.05 812.30 556.40 806.70 C557.75 801.10 558.43 794.12 559.30 789.30 C560.17 784.48 560.63 781.07 561.60 777.80 C562.57 774.53 564.13 773.17 565.10 769.70 C566.07 766.23 566.83 759.22 567.40 757.00 C567.97 754.78 567.73 755.92 568.50 756.40 C569.27 756.88 571.13 760.58 572.00 759.90 C572.87 759.22 572.93 754.13 573.70 752.30 C574.47 750.47 575.77 749.85 576.60 748.90 C577.43 747.95 578.02 746.50 578.70 746.60 C579.38 746.70 580.18 748.73 580.70 749.50 C581.22 750.27 581.52 749.57 581.80 751.20 C582.08 752.83 581.92 757.28 582.40 759.30 C582.88 761.32 583.83 761.95 584.70 763.30 C585.57 764.65 586.73 765.37 587.60 767.40 C588.47 769.43 589.03 771.65 589.90 775.50 C590.77 779.35 591.83 785.30 592.80 790.50 C593.77 795.70 594.83 801.30 595.70 806.70 C596.57 812.10 597.23 817.52 598.00 822.90 C598.77 828.28 599.53 834.00 600.30 839.00 C601.07 844.00 601.83 848.07 602.60 852.90 C603.37 857.73 604.03 863.15 604.90 868.00 C605.77 872.85 606.83 877.78 607.80 882.00 C608.77 886.22 609.67 889.40 610.70 893.30 C611.73 897.20 612.90 902.05 614.00 905.40 C615.10 908.75 616.18 910.97 617.30 913.40 C618.42 915.83 619.47 917.78 620.70 920.00 C621.93 922.22 623.15 924.70 624.70 926.70 C626.25 928.70 628.00 930.62 630.00 932.00 C632.00 933.38 634.47 934.50 636.70 935.00 C638.93 935.50 641.18 935.05 643.40 935.00 C645.62 934.95 648.33 935.20 650.00 934.70 C651.67 934.20 651.95 933.12 653.40 932.00 C654.85 930.88 657.15 929.33 658.70 928.00 C660.25 926.67 661.37 925.55 662.70 924.00 C664.03 922.45 665.37 920.70 666.70 918.70 C668.03 916.70 669.37 914.22 670.70 912.00 C672.03 909.78 673.15 907.90 674.70 905.40 C676.25 902.90 679.12 898.40 680.00 897.00" stroke="#22a05a" stroke-width="2" fill="none" stroke-linejoin="round" stroke-linecap="round"/>
<path d="M679.97 896.97 L679.70 899.00 L679.38 901.02 L679.03 903.05 L678.64 905.08 L678.21 907.10 L677.73 909.11 L677.22 911.12 L676.67 913.12 L676.08 915.11 L675.44 917.09 L674.77 919.05 L674.06 920.99 L673.32 922.92 L672.53 924.82 L671.70 926.71 L670.84 928.57 L669.93 930.40 L668.99 932.21 L668.01 933.98 L666.99 935.73 L665.93 937.44 L664.84 939.11 L663.70 940.75 L662.53 942.35 L661.32 943.91 L660.08 945.43 L658.79 946.90 L657.47 948.33 L656.11 949.70 L654.72 951.03 L653.28 952.31 L651.81 953.53 L650.31 954.70 L648.77 955.81 L647.19 956.88 L645.59 957.90 L643.95 958.88 L642.28 959.81 L640.59 960.69 L638.86 961.54 L637.12 962.35 L635.34 963.11 L633.55 963.85 L631.73 964.55 L629.89 965.21 L628.03 965.85 L626.15 966.46 L624.26 967.04 L622.35 967.59 L620.43 968.12 L618.49 968.63 L616.54 969.12 L614.58 969.59 L612.61 970.04 L610.64 970.48 L608.66 970.90 L606.67 971.31 L604.68 971.71 L602.68 972.11 L600.68 972.49 L598.69 972.88 L596.69 973.25 L594.69 973.63 L592.70 974.00 L590.70 974.36 L588.70 974.72 L586.70 975.08 L584.71 975.43 L582.71 975.78 L580.71 976.12 L578.72 976.46 L576.72 976.79 L574.72 977.12 L572.73 977.45 L570.73 977.77 L568.73 978.08 L566.74 978.40 L564.74 978.71 L562.74 979.01 L560.75 979.31 L558.75 979.61 L556.75 979.90 L554.76 980.18 L552.76 980.47 L550.76 980.75 L548.77 981.02 L546.77 981.29 L544.77 981.56 L542.77 981.82 L540.78 982.08 L538.78 982.33 L536.78 982.58 L534.79 982.83 L532.79 983.07 L530.79 983.30 L528.79 983.54 L526.80 983.77 L524.80 983.99 L522.80 984.21 L520.80 984.43 L518.80 984.64 L516.81 984.85 L514.81 985.05 L512.81 985.25 L510.81 985.45 L508.81 985.64 L506.81 985.83 L504.81 986.01 L502.81 986.19 L500.82 986.37 L498.82 986.54 L496.82 986.71 L494.82 986.87 L492.82 987.03 L490.82 987.19 L488.82 987.34 L486.82 987.49 L484.82 987.63 L482.82 987.77 L480.82 987.91 L478.81 988.04 L476.81 988.17 L474.81 988.29 L472.81 988.41 L470.81 988.53 L468.81 988.64 L466.80 988.75 L464.80 988.85 L462.80 988.95 L460.80 989.05 L458.79 989.14 L456.79 989.23 L454.79 989.32 L452.78 989.40 L450.78 989.48 L448.78 989.55 L446.77 989.62 L444.77 989.69 L442.76 989.75 L440.76 989.81 L438.75 989.87 L436.75 989.92 L434.74 989.97 L432.74 990.02 L430.73 990.06 L428.72 990.11 L426.72 990.14 L424.71 990.18 L422.70 990.21 L420.70 990.24 L418.69 990.27 L416.68 990.29 L414.68 990.31 L412.67 990.33 L410.66 990.34 L408.65 990.36 L406.65 990.37 L404.64 990.38 L402.63 990.38 L400.62 990.39 L398.61 990.39 L396.60 990.39 L394.60 990.39 L392.59 990.38 L390.58 990.38 L388.57 990.37 L386.56 990.36 L384.55 990.35 L382.54 990.34 L380.53 990.32 L378.52 990.31 L376.51 990.29 L374.50 990.27 L372.49 990.25 L370.48 990.23 L368.47 990.21 L366.46 990.18 L364.45 990.16 L362.44 990.13 L360.43 990.11 L358.42 990.08 L356.41 990.05 L354.40 990.02 L352.39 989.99 L350.38 989.96 L348.37 989.93 L346.35 989.90 L344.34 989.87 L342.33 989.83 L340.32 989.80 L338.31 989.77 L336.30 989.73 L334.29 989.70 L332.28 989.67 L330.27 989.63 L328.25 989.60 L326.24 989.57 L324.23 989.53 L322.22 989.50 L320.21 989.47 L318.20 989.44 L316.19 989.40 L314.18 989.37 L312.17 989.34 L310.15 989.31 L308.14 989.28 L306.13 989.25 L304.12 989.23 L302.11 989.20 L300.10 989.17 L298.09 989.15 L296.08 989.12 L294.07 989.10 L292.05 989.08 L290.04 989.06 L288.03 989.04 L286.02 989.02 L284.01 989.00 L282.00 988.99 L279.99 988.97 L277.98 988.96 L275.97 988.95 L273.96 988.94 L271.95 988.93 L269.94 988.93 L267.93 988.93 L265.92 988.93 L263.91 988.93 L261.90 988.93 L259.89 988.93 L257.88 988.94 L255.87 988.95 L253.86 988.96 L251.85 988.98 L249.84 988.99 L247.83 989.01 L245.82 989.04 L243.81 989.06 L241.81 989.09 L239.80 989.12 L237.79 989.15 L235.78 989.19 L233.77 989.23 L231.76 989.27 L229.76 989.31 L227.75 989.36 L225.74 989.41 L223.73 989.47 L221.73 989.52 L219.72 989.59 L217.71 989.65 L215.70 989.72 L213.70 989.79 L211.69 989.87 L209.68 989.95 L207.68 990.03 L205.67 990.12 L203.67 990.21 L201.66 990.30 L199.66 990.40 L197.65 990.50 L195.65 990.61 L193.64 990.72 L191.64 990.84 L189.63 990.96 L187.63 991.08 L185.62 991.21 L183.62 991.35 L181.62 991.48 L179.61 991.63 L177.61 991.77 L175.61 991.93 L173.61 992.08 L171.60 992.24 L169.60 992.41 L167.60 992.58" stroke="#22a05a" stroke-width="2" fill="none" stroke-linejoin="round" stroke-linecap="round"/>
<path d="M905.20 1001.39 L907.21 1001.13 L909.23 1000.88 L911.25 1000.64 L913.27 1000.40 L915.29 1000.17 L917.31 999.95 L919.33 999.73 L921.35 999.51 L923.37 999.31 L925.39 999.10 L927.41 998.91 L929.43 998.71 L931.46 998.53 L933.48 998.35 L935.50 998.17 L937.53 998.00 L939.55 997.83 L941.58 997.67 L943.60 997.52 L945.63 997.37 L947.65 997.22 L949.68 997.08 L951.71 996.94 L953.73 996.81 L955.76 996.68 L957.79 996.55 L959.82 996.43 L961.85 996.32 L963.88 996.21 L965.90 996.10 L967.93 995.99 L969.96 995.89 L971.99 995.80 L974.02 995.70 L976.05 995.61 L978.08 995.53 L980.12 995.44 L982.15 995.37 L984.18 995.29 L986.21 995.22 L988.24 995.15 L990.27 995.08 L992.31 995.02 L994.34 994.95 L996.37 994.90 L998.40 994.84 L1000.44 994.79 L1002.47 994.74 L1004.50 994.69 L1006.54 994.64 L1008.57 994.60 L1010.60 994.56 L1012.64 994.52 L1014.67 994.48 L1016.70 994.45 L1018.74 994.42 L1020.77 994.38 L1022.81 994.35 L1024.84 994.33 L1026.87 994.30 L1028.91 994.28 L1030.94 994.25 L1032.98 994.23 L1035.01 994.21 L1037.05 994.19 L1039.08 994.17 L1041.11 994.15 L1043.15 994.14 L1045.18 994.12 L1047.22 994.11 L1049.25 994.09 L1051.28 994.08 L1053.32 994.06 L1055.35 994.05 L1057.39 994.04 L1059.42 994.03 L1061.45 994.02 L1063.49 994.00 L1065.52 993.99 L1067.56 993.98 L1069.59 993.97 L1071.62 993.96 L1073.66 993.94 L1075.69 993.93 L1077.72 993.92 L1079.75 993.91 L1081.79 993.89 L1083.82 993.88 L1085.85 993.86 L1087.88 993.85 L1089.91 993.83 L1091.95 993.81 L1093.98 993.79 L1096.01 993.77 L1098.04 993.75 L1100.07 993.73 L1102.10 993.70" stroke="#b068e0" stroke-width="2" fill="none" stroke-linejoin="round" stroke-linecap="round"/>
<path d="M1102.10 993.70 L1102.10 1004.50" stroke="#b068e0" stroke-width="2" fill="none" stroke-linejoin="round" stroke-linecap="round"/>
<path d="M1102.10 993.20 C1106.00 993.07 1117.52 992.57 1125.50 992.40 C1133.48 992.23 1142.58 992.32 1150.00 992.20 C1157.42 992.08 1163.88 991.93 1170.00 991.70 C1176.12 991.47 1181.70 991.13 1186.70 990.80 C1191.70 990.47 1196.12 990.27 1200.00 989.70 C1203.88 989.13 1207.22 988.28 1210.00 987.40 C1212.78 986.52 1214.47 985.73 1216.70 984.40 C1218.93 983.07 1221.40 981.35 1223.40 979.40 C1225.40 977.45 1227.05 975.18 1228.70 972.70 C1230.35 970.22 1231.88 967.45 1233.30 964.50 C1234.72 961.55 1235.88 958.53 1237.20 955.00 C1238.52 951.47 1240.02 947.30 1241.20 943.30 C1242.38 939.30 1243.23 936.55 1244.30 931.00 C1245.37 925.45 1246.25 917.55 1247.60 910.00 C1248.95 902.45 1250.93 893.73 1252.40 885.70 C1253.87 877.67 1255.07 870.32 1256.40 861.80 C1257.73 853.28 1259.22 843.40 1260.40 834.60 C1261.58 825.80 1262.45 817.25 1263.50 809.00 C1264.55 800.75 1265.50 792.82 1266.70 785.10 C1267.90 777.38 1269.37 769.63 1270.70 762.70 C1272.03 755.77 1273.23 749.35 1274.70 743.50 C1276.17 737.65 1277.82 731.45 1279.50 727.60 C1281.18 723.75 1282.93 720.40 1284.80 720.40 C1286.67 720.40 1288.92 723.75 1290.70 727.60 C1292.48 731.45 1293.90 737.12 1295.50 743.50 C1297.10 749.88 1298.70 758.17 1300.30 765.90 C1301.90 773.63 1303.50 781.92 1305.10 789.90 C1306.70 797.88 1308.30 806.35 1309.90 813.80 C1311.50 821.25 1313.10 828.40 1314.70 834.60 C1316.30 840.80 1317.52 844.93 1319.50 851.00 C1321.48 857.07 1324.50 865.83 1326.60 871.00 C1328.70 876.17 1329.90 878.15 1332.10 882.00 C1334.30 885.85 1337.05 890.62 1339.80 894.10 C1342.55 897.58 1345.30 900.15 1348.60 902.90 C1351.90 905.65 1355.57 908.22 1359.60 910.60 C1363.63 912.98 1368.38 915.27 1372.80 917.20 C1377.22 919.13 1381.13 920.77 1386.10 922.20 C1391.07 923.63 1397.38 924.93 1402.60 925.80 C1407.82 926.67 1414.93 927.13 1417.40 927.40" stroke="#b068e0" stroke-width="2" fill="none" stroke-linejoin="round" stroke-linecap="round"/>
<path d="M1417.39 927.40 L1417.48 929.34 L1417.54 931.28 L1417.58 933.25 L1417.60 935.22 L1417.60 937.21 L1417.58 939.21 L1417.53 941.21 L1417.46 943.23 L1417.37 945.25 L1417.25 947.28 L1417.10 949.31 L1416.93 951.34 L1416.74 953.38 L1416.51 955.41 L1416.26 957.45 L1415.98 959.48 L1415.67 961.51 L1415.33 963.53 L1414.96 965.55 L1414.56 967.56 L1414.13 969.56 L1413.67 971.56 L1413.17 973.54 L1412.64 975.51 L1412.07 977.46 L1411.47 979.40 L1410.84 981.33 L1410.17 983.23 L1409.46 985.12 L1408.72 986.99 L1407.94 988.83 L1407.12 990.65 L1406.26 992.45 L1405.36 994.23 L1404.42 995.98 L1403.44 997.69 L1402.42 999.39 L1401.36 1001.05 L1400.26 1002.67 L1399.11 1004.27 L1397.92 1005.84 L1396.70 1007.37 L1395.43 1008.88 L1394.13 1010.36 L1392.79 1011.80 L1391.42 1013.22 L1390.02 1014.62 L1388.58 1015.98 L1387.12 1017.32 L1385.62 1018.63 L1384.10 1019.92 L1382.55 1021.19 L1380.98 1022.42 L1379.38 1023.64 L1377.76 1024.83 L1376.11 1026.00 L1374.45 1027.15 L1372.77 1028.28 L1371.07 1029.39 L1369.35 1030.47 L1367.62 1031.54 L1365.88 1032.59 L1364.12 1033.62 L1362.35 1034.63 L1360.57 1035.63 L1358.78 1036.60 L1356.99 1037.57 L1355.19 1038.51 L1353.38 1039.44 L1351.57 1040.36 L1349.76 1041.26 L1347.94 1042.15 L1346.13 1043.03 L1344.31 1043.90 L1342.50 1044.75 L1340.68 1045.60 L1338.87 1046.43 L1337.05 1047.26 L1335.23 1048.08 L1333.40 1048.90 L1331.58 1049.71 L1329.75 1050.51 L1327.92 1051.32 L1326.09 1052.12 L1324.26 1052.92 L1322.42 1053.72 L1320.57 1054.52 L1318.73 1055.32 L1316.87 1056.13 L1315.02 1056.94 L1313.16 1057.75 L1311.29 1058.57 L1309.42 1059.40 L1307.54 1060.23 L1305.65 1061.06 L1303.77 1061.88 L1301.87 1062.70 L1299.97 1063.50 L1298.07 1064.29 L1296.16 1065.06 L1294.25 1065.80 L1292.34 1066.52 L1290.42 1067.20 L1288.50 1067.85 L1286.57 1068.46 L1284.64 1069.03 L1282.71 1069.55 L1280.77 1070.01 L1278.83 1070.43 L1276.89 1070.78 L1274.95 1071.08 L1273.01 1071.31 L1271.07 1071.48 L1269.13 1071.60 L1267.19 1071.65 L1265.26 1071.63 L1263.34 1071.56 L1261.42 1071.42 L1259.51 1071.22 L1257.61 1070.96 L1255.72 1070.62 L1253.84 1070.23 L1251.98 1069.76 L1250.13 1069.23 L1248.29 1068.64 L1246.47 1067.97 L1244.67 1067.24 L1242.89 1066.44 L1241.12 1065.58 L1239.37 1064.66 L1237.64 1063.70 L1235.91 1062.68 L1234.19 1061.62 L1232.49 1060.53 L1230.79 1059.41 L1229.10 1058.26 L1227.41 1057.08 L1225.73 1055.89 L1224.04 1054.69 L1222.36 1053.48 L1220.68 1052.27 L1218.99 1051.06 L1217.30 1049.86 L1215.61 1048.67 L1213.91 1047.50 L1212.20 1046.35 L1210.48 1045.23 L1208.76 1044.13 L1207.02 1043.05 L1205.28 1042.00 L1203.53 1040.97 L1201.77 1039.97 L1200.00 1038.98 L1198.22 1038.02 L1196.44 1037.09 L1194.65 1036.17 L1192.85 1035.28 L1191.04 1034.40 L1189.23 1033.55 L1187.41 1032.72 L1185.58 1031.91 L1183.75 1031.12 L1181.91 1030.35 L1180.06 1029.60 L1178.21 1028.86 L1176.35 1028.15 L1174.48 1027.46 L1172.61 1026.78 L1170.73 1026.12 L1168.85 1025.48 L1166.96 1024.86 L1165.06 1024.25 L1163.16 1023.66 L1161.25 1023.09 L1159.34 1022.54 L1157.42 1022.00 L1155.50 1021.47 L1153.57 1020.96 L1151.64 1020.47 L1149.71 1019.99 L1147.76 1019.52 L1145.82 1019.07 L1143.87 1018.63 L1141.92 1018.21 L1139.96 1017.80 L1138.00 1017.40 L1136.03 1017.02 L1134.06 1016.65 L1132.09 1016.29 L1130.12 1015.94 L1128.14 1015.60 L1126.16 1015.27 L1124.17 1014.96 L1122.18 1014.65 L1120.19 1014.36 L1118.20 1014.07 L1116.21 1013.80 L1114.21 1013.53 L1112.21 1013.28 L1110.21 1013.03 L1108.20 1012.79 L1106.20 1012.56 L1104.19 1012.33 L1102.18 1012.12 L1100.17 1011.91 L1098.16 1011.71 L1096.14 1011.51 L1094.13 1011.32 L1092.11 1011.14 L1090.10 1010.96 L1088.08 1010.79 L1086.06 1010.63 L1084.04 1010.46 L1082.03 1010.31 L1080.01 1010.15 L1077.99 1010.01 L1075.97 1009.86 L1073.95 1009.72 L1071.93 1009.58 L1069.92 1009.44 L1067.90 1009.31 L1065.88 1009.18 L1063.87 1009.05 L1061.85 1008.92 L1059.84 1008.79 L1057.82 1008.67 L1055.81 1008.55 L1053.80 1008.43 L1051.78 1008.31 L1049.77 1008.19 L1047.76 1008.08 L1045.75 1007.97 L1043.74 1007.86 L1041.73 1007.75 L1039.72 1007.64 L1037.71 1007.53 L1035.71 1007.42 L1033.70 1007.32 L1031.69 1007.22 L1029.68 1007.12 L1027.68 1007.02 L1025.67 1006.92 L1023.66 1006.82 L1021.66 1006.72 L1019.65 1006.63 L1017.65 1006.53 L1015.64 1006.44 L1013.64 1006.34 L1011.63 1006.25 L1009.63 1006.16 L1007.62 1006.07 L1005.62 1005.98 L1003.61 1005.89 L1001.61 1005.80 L999.60 1005.71 L997.60 1005.63 L995.60 1005.54 L993.59 1005.45 L991.59 1005.37 L989.59 1005.28 L987.58 1005.20 L985.58 1005.11 L983.57 1005.03 L981.57 1004.94 L979.57 1004.86 L977.56 1004.77 L975.56 1004.69 L973.55 1004.60 L971.55 1004.52 L969.54 1004.44 L967.54 1004.35 L965.53 1004.27 L963.53 1004.18 L961.52 1004.10 L959.52 1004.01 L957.51 1003.92 L955.51 1003.84 L953.50 1003.75 L951.49 1003.66 L949.48 1003.57 L947.48 1003.49 L945.47 1003.40 L943.46 1003.31 L941.45 1003.22 L939.44 1003.12 L937.43 1003.03 L935.42 1002.94 L933.41 1002.85 L931.40 1002.75 L929.39 1002.65 L927.37 1002.56 L925.36 1002.46 L923.35 1002.36 L921.33 1002.26 L919.32 1002.16 L917.30 1002.05 L915.29 1001.95 L913.27 1001.84 L911.25 1001.74 L909.23 1001.63 L907.22 1001.52 L905.20 1001.41" stroke="#b068e0" stroke-width="2" fill="none" stroke-linejoin="round" stroke-linecap="round"/>
<path d="M160.40 1720.00 C160.47 1704.43 160.63 1652.72 160.80 1626.60 C160.97 1600.48 161.17 1577.23 161.40 1563.30 C161.63 1549.37 162.07 1546.38 162.20 1543.00" stroke="#b2bd3c" stroke-width="2.2" fill="none" stroke-linejoin="round" stroke-linecap="round"/>
<path d="M162.20 1543.00 L162.16 1540.51 L162.39 1538.26 L162.87 1536.24 L163.57 1534.44 L164.48 1532.84 L165.59 1531.41 L166.86 1530.15 L168.29 1529.02 L169.85 1528.02 L171.53 1527.13 L173.30 1526.33 L175.15 1525.60 L177.05 1524.92 L179.00 1524.28 L180.96 1523.66 L182.92 1523.03 L184.87 1522.40 L186.81 1521.75 L188.73 1521.09 L190.64 1520.42 L192.55 1519.75 L194.45 1519.07 L196.33 1518.38 L198.22 1517.69 L200.10 1517.01 L201.98 1516.32 L203.85 1515.63 L205.73 1514.95 L207.61 1514.27 L209.49 1513.61 L211.37 1512.95 L213.26 1512.30 L215.16 1511.66 L217.06 1511.03 L218.97 1510.42 L220.88 1509.81 L222.80 1509.22 L224.73 1508.63 L226.66 1508.05 L228.59 1507.48 L230.53 1506.91 L232.47 1506.35 L234.41 1505.80 L236.36 1505.25 L238.31 1504.70 L240.26 1504.16 L242.22 1503.61 L244.17 1503.07 L246.13 1502.54 L248.08 1502.00 L250.04 1501.46 L252.00 1500.92 L253.95 1500.38 L255.91 1499.83 L257.86 1499.29 L259.82 1498.74 L261.77 1498.18 L263.72 1497.62 L265.67 1497.06 L267.61 1496.48 L269.55 1495.90 L271.49 1495.31 L273.43 1494.72 L275.36 1494.11 L277.28 1493.50 L279.20 1492.87 L281.12 1492.23 L283.03 1491.58 L284.93 1490.92 L286.83 1490.25 L288.73 1489.57 L290.62 1488.87 L292.50 1488.17 L294.38 1487.45 L296.25 1486.72 L298.12 1485.98 L299.99 1485.24 L301.85 1484.48 L303.70 1483.71 L305.55 1482.93 L307.39 1482.14 L309.23 1481.34 L311.07 1480.53 L312.90 1479.71 L314.73 1478.89 L316.55 1478.05 L318.36 1477.20 L320.18 1476.34 L321.98 1475.48 L323.79 1474.61 L325.59 1473.72 L327.38 1472.83 L329.17 1471.93 L330.96 1471.02 L332.74 1470.10 L334.51 1469.18 L336.29 1468.24 L338.06 1467.30 L339.82 1466.35 L341.58 1465.39 L343.34 1464.43 L345.09 1463.45 L346.84 1462.47 L348.58 1461.48 L350.32 1460.49 L352.06 1459.48 L353.80 1458.47 L355.52 1457.46 L357.25 1456.43 L358.97 1455.40 L360.69 1454.37 L362.41 1453.32 L364.12 1452.27 L365.82 1451.22 L367.53 1450.16 L369.23 1449.09 L370.93 1448.01 L372.62 1446.93 L374.31 1445.85 L376.00 1444.76 L377.68 1443.66 L379.36 1442.56 L381.04 1441.45 L382.72 1440.34 L384.39 1439.22 L386.06 1438.10 L387.72 1436.98 L389.38 1435.84 L391.04 1434.71 L392.70 1433.57 L394.35 1432.42 L396.00 1431.28 L397.65 1430.12 L399.30 1428.97 L400.94 1427.81 L402.58 1426.64 L404.22 1425.47 L405.85 1424.30 L407.48 1423.13 L409.11 1421.95 L410.74 1420.77 L412.37 1419.58 L413.99 1418.39 L415.61 1417.20 L417.23 1416.01 L418.85 1414.81 L420.46 1413.61 L422.07 1412.40 L423.68 1411.20 L425.29 1409.99 L426.90 1408.78 L428.50 1407.56 L430.10 1406.34 L431.71 1405.12 L433.31 1403.90 L434.90 1402.68 L436.50 1401.45 L438.09 1400.22 L439.69 1398.99 L441.28 1397.76 L442.87 1396.52 L444.46 1395.29 L446.05 1394.05 L447.63 1392.81 L449.22 1391.57 L450.80 1390.32 L452.39 1389.08 L453.97 1387.83 L455.55 1386.58 L457.13 1385.34 L458.71 1384.09 L460.29 1382.83 L461.87 1381.58 L463.45 1380.33 L465.03 1379.07 L466.60 1377.82 L468.18 1376.56 L469.75 1375.31 L471.33 1374.05 L472.90 1372.79 L474.48 1371.54 L476.05 1370.28 L477.63 1369.02 L479.20 1367.76 L480.77 1366.50 L482.35 1365.24 L483.92 1363.98 L485.49 1362.72 L487.07 1361.46 L488.64 1360.21 L490.21 1358.95 L491.79 1357.69 L493.36 1356.43 L494.94 1355.18 L496.51 1353.92 L498.09 1352.66 L499.67 1351.41 L501.24 1350.15 L502.82 1348.90 L504.40 1347.65 L505.98 1346.40 L507.56 1345.15 L509.14 1343.90 L510.72 1342.65 L512.30 1341.40 L513.88 1340.16 L515.47 1338.92 L517.05 1337.67 L518.64 1336.43 L520.23 1335.20 L521.82 1333.96 L523.41 1332.72 L525.00 1331.49 L526.59 1330.26 L528.19 1329.03 L529.78 1327.81 L531.38 1326.58 L532.98 1325.36 L534.58 1324.14 L536.18 1322.92 L537.79 1321.71 L539.39 1320.49 L541.00 1319.29 L542.61 1318.08 L544.22 1316.87 L545.83 1315.67 L547.45 1314.48 L549.07 1313.28 L550.69 1312.09 L552.31 1310.90 L553.93 1309.72 L555.56 1308.53 L557.19 1307.35 L558.82 1306.18 L560.46 1305.01 L562.09 1303.84 L563.73 1302.68 L565.37 1301.52 L567.02 1300.36 L568.66 1299.21 L570.31 1298.06 L571.97 1296.91 L573.62 1295.77 L575.28 1294.64 L576.94 1293.51 L578.61 1292.38 L580.28 1291.26 L581.95 1290.14 L583.62 1289.02 L585.30 1287.91 L586.98 1286.81 L588.66 1285.71 L590.35 1284.62 L592.04 1283.53 L593.74 1282.44 L595.43 1281.36 L597.14 1280.29 L598.84 1279.22 L600.55 1278.16 L602.26 1277.10 L603.98 1276.05 L605.70 1275.00" stroke="#b2bd3c" stroke-width="2.2" fill="none" stroke-linejoin="round" stroke-linecap="round"/>
<path d="M160.40 1720.00 C160.47 1704.43 160.62 1652.72 160.80 1626.60 C160.98 1600.48 161.25 1576.90 161.50 1563.30 C161.75 1549.70 162.17 1548.05 162.30 1545.00" stroke="#0e4a20" stroke-width="2.2" fill="none" stroke-linejoin="round" stroke-linecap="round"/>
<path d="M162.28 1544.98 L162.87 1542.96 L163.61 1541.08 L164.48 1539.34 L165.48 1537.72 L166.59 1536.23 L167.82 1534.85 L169.15 1533.56 L170.56 1532.38 L172.06 1531.27 L173.64 1530.24 L175.27 1529.28 L176.97 1528.37 L178.70 1527.51 L180.48 1526.69 L182.28 1525.90 L184.11 1525.13 L185.95 1524.38 L187.80 1523.65 L189.67 1522.93 L191.56 1522.24 L193.45 1521.55 L195.36 1520.88 L197.28 1520.23 L199.20 1519.58 L201.14 1518.95 L203.08 1518.33 L205.03 1517.72 L206.98 1517.12 L208.94 1516.53 L210.90 1515.95 L212.87 1515.38 L214.83 1514.81 L216.80 1514.24 L218.76 1513.69 L220.72 1513.13 L222.69 1512.58 L224.64 1512.04 L226.60 1511.49 L228.56 1510.95 L230.51 1510.42 L232.47 1509.88 L234.42 1509.35 L236.37 1508.82 L238.32 1508.29 L240.26 1507.76 L242.21 1507.24 L244.15 1506.72 L246.10 1506.19 L248.04 1505.67 L249.98 1505.15 L251.92 1504.63 L253.86 1504.10 L255.79 1503.58 L257.73 1503.06 L259.67 1502.53 L261.60 1502.00 L263.53 1501.48 L265.46 1500.95 L267.39 1500.42 L269.32 1499.88 L271.25 1499.35 L273.18 1498.81 L275.11 1498.26 L277.03 1497.72 L278.96 1497.17 L280.88 1496.61 L282.81 1496.06 L284.73 1495.50 L286.65 1494.93 L288.57 1494.36 L290.50 1493.78 L292.42 1493.20 L294.33 1492.62 L296.25 1492.02 L298.17 1491.43 L300.09 1490.83 L302.00 1490.22 L303.91 1489.61 L305.83 1489.00 L307.74 1488.38 L309.65 1487.75 L311.56 1487.12 L313.46 1486.49 L315.37 1485.85 L317.27 1485.20 L319.18 1484.55 L321.08 1483.89 L322.98 1483.23 L324.87 1482.56 L326.77 1481.89 L328.66 1481.21 L330.55 1480.53 L332.44 1479.84 L334.33 1479.14 L336.22 1478.44 L338.10 1477.74 L339.99 1477.03 L341.87 1476.31 L343.74 1475.59 L345.62 1474.86 L347.49 1474.12 L349.36 1473.38 L351.23 1472.64 L353.10 1471.89 L354.96 1471.13 L356.82 1470.36 L358.68 1469.59 L360.53 1468.82 L362.39 1468.04 L364.24 1467.25 L366.08 1466.46 L367.93 1465.65 L369.77 1464.85 L371.61 1464.04 L373.44 1463.22 L375.27 1462.39 L377.10 1461.56 L378.93 1460.72 L380.75 1459.88 L382.57 1459.03 L384.39 1458.17 L386.20 1457.31 L388.01 1456.44 L389.81 1455.56 L391.62 1454.68 L393.42 1453.79 L395.21 1452.89 L397.00 1451.99 L398.79 1451.08 L400.57 1450.16 L402.35 1449.24 L404.13 1448.30 L405.90 1447.37 L407.67 1446.42 L409.43 1445.47 L411.19 1444.51 L412.95 1443.55 L414.70 1442.58 L416.45 1441.60 L418.19 1440.61 L419.93 1439.62 L421.67 1438.62 L423.40 1437.61 L425.12 1436.59 L426.85 1435.57 L428.56 1434.54 L430.28 1433.51 L431.99 1432.47 L433.69 1431.42 L435.40 1430.36 L437.09 1429.30 L438.79 1428.23 L440.48 1427.16 L442.17 1426.08 L443.85 1425.00 L445.53 1423.91 L447.21 1422.81 L448.88 1421.71 L450.55 1420.60 L452.22 1419.49 L453.88 1418.37 L455.54 1417.25 L457.20 1416.12 L458.86 1414.99 L460.51 1413.85 L462.16 1412.71 L463.80 1411.57 L465.45 1410.41 L467.09 1409.26 L468.73 1408.10 L470.36 1406.94 L472.00 1405.77 L473.63 1404.60 L475.26 1403.42 L476.88 1402.24 L478.51 1401.06 L480.13 1399.87 L481.75 1398.68 L483.37 1397.49 L484.98 1396.29 L486.60 1395.09 L488.21 1393.89 L489.82 1392.68 L491.43 1391.47 L493.04 1390.26 L494.64 1389.05 L496.25 1387.83 L497.85 1386.61 L499.45 1385.39 L501.05 1384.17 L502.65 1382.94 L504.25 1381.71 L505.84 1380.48 L507.44 1379.25 L509.03 1378.02 L510.63 1376.79 L512.22 1375.55 L513.81 1374.31 L515.40 1373.07 L516.99 1371.83 L518.58 1370.59 L520.17 1369.35 L521.76 1368.11 L523.35 1366.86 L524.94 1365.62 L526.52 1364.38 L528.11 1363.13 L529.70 1361.88 L531.29 1360.64 L532.87 1359.39 L534.46 1358.15 L536.05 1356.90 L537.64 1355.66 L539.22 1354.41 L540.81 1353.16 L542.40 1351.92 L543.99 1350.68 L545.58 1349.43 L547.17 1348.19 L548.76 1346.95 L550.35 1345.71 L551.94 1344.47 L553.53 1343.23 L555.13 1341.99 L556.72 1340.76 L558.32 1339.52 L559.91 1338.29 L561.51 1337.06 L563.11 1335.83 L564.71 1334.60 L566.31 1333.38 L567.91 1332.16 L569.51 1330.93 L571.12 1329.72 L572.73 1328.50 L574.33 1327.29 L575.94 1326.08 L577.56 1324.87 L579.17 1323.66 L580.79 1322.46 L582.40 1321.26 L584.02 1320.07 L585.64 1318.87 L587.27 1317.68 L588.89 1316.50 L590.52 1315.32 L592.15 1314.14 L593.78 1312.96 L595.42 1311.79 L597.06 1310.63 L598.70 1309.46 L600.34 1308.30 L601.99 1307.15 L603.63 1306.00 L605.28 1304.85 L606.94 1303.71 L608.60 1302.58 L610.26 1301.45 L611.92 1300.32 L613.58 1299.20 L615.25 1298.08 L616.93 1296.97 L618.60 1295.87 L620.28 1294.77 L621.96 1293.67 L623.65 1292.58 L625.34 1291.50 L627.03 1290.42 L628.73 1289.35 L630.43 1288.29 L632.14 1287.23 L633.85 1286.17 L635.56 1285.13 L637.27 1284.09 L639.00 1283.05 L640.72 1282.03 L642.45 1281.01 L644.18 1279.99 L645.92 1278.99 L647.66 1277.99 L649.41 1277.00 L651.16 1276.01 L652.92 1275.04" stroke="#0e4a20" stroke-width="2.2" fill="none" stroke-linejoin="round" stroke-linecap="round"/>
<path d="M160.40 1720.00 C160.45 1704.43 160.55 1652.72 160.70 1626.60 C160.85 1600.48 161.10 1577.73 161.30 1563.30 C161.50 1548.87 161.80 1543.88 161.90 1540.00" stroke="#efb444" stroke-width="2.2" fill="none" stroke-linejoin="round" stroke-linecap="round"/>
<path d="M161.88 1539.99 L162.04 1537.79 L162.41 1535.77 L162.98 1533.91 L163.73 1532.22 L164.65 1530.67 L165.72 1529.24 L166.93 1527.94 L168.26 1526.74 L169.70 1525.64 L171.23 1524.62 L172.83 1523.66 L174.50 1522.76 L176.21 1521.91 L177.96 1521.09 L179.76 1520.31 L181.58 1519.57 L183.44 1518.86 L185.33 1518.17 L187.24 1517.51 L189.18 1516.88 L191.13 1516.26 L193.10 1515.67 L195.08 1515.08 L197.08 1514.51 L199.07 1513.95 L201.07 1513.40 L203.07 1512.85 L205.06 1512.30 L207.05 1511.76 L209.04 1511.21 L211.03 1510.66 L213.01 1510.12 L214.98 1509.57 L216.96 1509.03 L218.92 1508.48 L220.89 1507.93 L222.85 1507.38 L224.81 1506.83 L226.77 1506.28 L228.72 1505.72 L230.67 1505.16 L232.61 1504.59 L234.56 1504.03 L236.49 1503.46 L238.43 1502.88 L240.36 1502.30 L242.29 1501.71 L244.22 1501.12 L246.14 1500.53 L248.06 1499.92 L249.97 1499.31 L251.88 1498.70 L253.79 1498.07 L255.70 1497.44 L257.60 1496.80 L259.50 1496.15 L261.39 1495.50 L263.29 1494.83 L265.18 1494.16 L267.06 1493.47 L268.95 1492.78 L270.83 1492.08 L272.70 1491.36 L274.58 1490.64 L276.45 1489.91 L278.31 1489.17 L280.18 1488.42 L282.03 1487.66 L283.89 1486.89 L285.74 1486.11 L287.59 1485.32 L289.44 1484.52 L291.28 1483.72 L293.11 1482.90 L294.95 1482.08 L296.77 1481.24 L298.60 1480.40 L300.42 1479.55 L302.24 1478.68 L304.05 1477.81 L305.86 1476.93 L307.66 1476.04 L309.46 1475.15 L311.26 1474.24 L313.05 1473.32 L314.84 1472.40 L316.62 1471.47 L318.39 1470.52 L320.17 1469.57 L321.94 1468.61 L323.70 1467.64 L325.46 1466.66 L327.21 1465.68 L328.96 1464.68 L330.70 1463.68 L332.44 1462.66 L334.18 1461.64 L335.91 1460.61 L337.63 1459.57 L339.35 1458.53 L341.06 1457.47 L342.77 1456.41 L344.47 1455.33 L346.17 1454.25 L347.86 1453.16 L349.55 1452.06 L351.23 1450.96 L352.91 1449.84 L354.58 1448.72 L356.24 1447.58 L357.90 1446.44 L359.55 1445.30 L361.20 1444.14 L362.84 1442.97 L364.47 1441.80 L366.10 1440.62 L367.73 1439.43 L369.34 1438.23 L370.95 1437.02 L372.56 1435.81 L374.16 1434.59 L375.75 1433.36 L377.34 1432.12 L378.92 1430.88 L380.49 1429.62 L382.07 1428.37 L383.63 1427.10 L385.19 1425.83 L386.75 1424.55 L388.30 1423.27 L389.85 1421.98 L391.39 1420.68 L392.93 1419.38 L394.46 1418.07 L395.99 1416.76 L397.52 1415.45 L399.04 1414.13 L400.56 1412.80 L402.08 1411.47 L403.59 1410.14 L405.10 1408.80 L406.61 1407.46 L408.12 1406.11 L409.62 1404.77 L411.12 1403.41 L412.62 1402.06 L414.11 1400.70 L415.61 1399.34 L417.10 1397.98 L418.59 1396.62 L420.08 1395.25 L421.57 1393.89 L423.05 1392.52 L424.54 1391.15 L426.02 1389.78 L427.51 1388.40 L428.99 1387.03 L430.48 1385.66 L431.96 1384.29 L433.44 1382.91 L434.93 1381.54 L436.41 1380.17 L437.89 1378.79 L439.38 1377.42 L440.86 1376.05 L442.35 1374.68 L443.83 1373.31 L445.32 1371.95 L446.81 1370.58 L448.30 1369.22 L449.79 1367.86 L451.29 1366.50 L452.78 1365.14 L454.28 1363.79 L455.78 1362.44 L457.28 1361.09 L458.79 1359.74 L460.30 1358.40 L461.81 1357.07 L463.32 1355.73 L464.84 1354.40 L466.36 1353.08 L467.88 1351.76 L469.41 1350.44 L470.94 1349.13 L472.47 1347.83 L474.01 1346.52 L475.55 1345.23 L477.09 1343.93 L478.64 1342.64 L480.19 1341.36 L481.74 1340.07 L483.29 1338.80 L484.85 1337.52 L486.41 1336.25 L487.97 1334.98 L489.54 1333.71 L491.11 1332.45 L492.68 1331.19 L494.25 1329.93 L495.82 1328.68 L497.39 1327.43 L498.97 1326.17 L500.55 1324.93 L502.13 1323.68 L503.71 1322.44 L505.30 1321.19 L506.88 1319.95 L508.47 1318.71 L510.05 1317.47 L511.64 1316.24 L513.23 1315.00 L514.82 1313.76 L516.41 1312.53 L518.00 1311.29 L519.59 1310.06 L521.18 1308.83 L522.78 1307.60 L524.37 1306.36 L525.96 1305.13 L527.55 1303.90 L529.15 1302.66 L530.74 1301.43 L532.33 1300.20 L533.92 1298.96 L535.52 1297.72 L537.11 1296.49 L538.70 1295.25 L540.29 1294.01 L541.88 1292.77 L543.47 1291.53 L545.05 1290.28 L546.64 1289.04 L548.22 1287.79 L549.81 1286.54 L551.39 1285.29 L552.97 1284.04 L554.55 1282.78 L556.13 1281.52 L557.71 1280.26 L559.28 1279.00 L560.85 1277.73 L562.42 1276.46 L563.99 1275.19" stroke="#efb444" stroke-width="2.2" fill="none" stroke-linejoin="round" stroke-linecap="round"/>
<path d="M160.40 1720.00 C160.45 1704.43 160.55 1652.72 160.70 1626.60 C160.85 1600.48 161.10 1577.73 161.30 1563.30 C161.50 1548.87 161.80 1543.88 161.90 1540.00" stroke="#fc5a56" stroke-width="2.2" fill="none" stroke-linejoin="round" stroke-linecap="round"/>
<path d="M161.89 1539.99 L161.84 1537.66 L162.06 1535.54 L162.51 1533.63 L163.19 1531.90 L164.06 1530.34 L165.12 1528.93 L166.33 1527.66 L167.69 1526.51 L169.16 1525.46 L170.74 1524.49 L172.39 1523.60 L174.10 1522.75 L175.85 1521.94 L177.64 1521.16 L179.45 1520.41 L181.29 1519.68 L183.15 1518.97 L185.03 1518.29 L186.94 1517.63 L188.86 1516.98 L190.79 1516.35 L192.74 1515.74 L194.70 1515.14 L196.67 1514.55 L198.64 1513.96 L200.61 1513.39 L202.59 1512.82 L204.56 1512.26 L206.53 1511.70 L208.51 1511.14 L210.47 1510.58 L212.44 1510.03 L214.41 1509.48 L216.37 1508.92 L218.33 1508.37 L220.29 1507.82 L222.24 1507.27 L224.19 1506.72 L226.15 1506.17 L228.09 1505.61 L230.04 1505.06 L231.98 1504.50 L233.93 1503.94 L235.86 1503.37 L237.80 1502.80 L239.73 1502.23 L241.66 1501.65 L243.59 1501.07 L245.51 1500.48 L247.43 1499.89 L249.35 1499.29 L251.27 1498.68 L253.18 1498.07 L255.09 1497.45 L256.99 1496.82 L258.90 1496.18 L260.79 1495.53 L262.69 1494.88 L264.58 1494.21 L266.47 1493.53 L268.35 1492.85 L270.23 1492.15 L272.11 1491.44 L273.99 1490.73 L275.86 1490.00 L277.72 1489.26 L279.58 1488.51 L281.44 1487.76 L283.29 1486.99 L285.14 1486.21 L286.99 1485.42 L288.83 1484.63 L290.67 1483.82 L292.50 1483.00 L294.33 1482.17 L296.16 1481.34 L297.97 1480.49 L299.79 1479.64 L301.60 1478.77 L303.41 1477.89 L305.21 1477.01 L307.01 1476.11 L308.80 1475.21 L310.58 1474.29 L312.37 1473.37 L314.14 1472.44 L315.92 1471.49 L317.68 1470.54 L319.45 1469.58 L321.20 1468.61 L322.95 1467.63 L324.70 1466.64 L326.44 1465.64 L328.18 1464.63 L329.91 1463.61 L331.63 1462.59 L333.35 1461.55 L335.07 1460.50 L336.78 1459.45 L338.48 1458.39 L340.18 1457.31 L341.87 1456.23 L343.55 1455.14 L345.23 1454.04 L346.90 1452.93 L348.57 1451.81 L350.23 1450.68 L351.89 1449.55 L353.54 1448.40 L355.18 1447.25 L356.82 1446.09 L358.45 1444.92 L360.07 1443.74 L361.69 1442.55 L363.30 1441.35 L364.90 1440.14 L366.50 1438.93 L368.09 1437.70 L369.68 1436.47 L371.26 1435.23 L372.83 1433.98 L374.39 1432.72 L375.95 1431.46 L377.51 1430.19 L379.05 1428.91 L380.60 1427.62 L382.13 1426.32 L383.66 1425.02 L385.19 1423.72 L386.71 1422.40 L388.23 1421.08 L389.74 1419.76 L391.25 1418.42 L392.75 1417.09 L394.25 1415.74 L395.74 1414.40 L397.23 1413.04 L398.72 1411.69 L400.20 1410.32 L401.68 1408.96 L403.16 1407.59 L404.63 1406.21 L406.11 1404.84 L407.57 1403.45 L409.04 1402.07 L410.50 1400.68 L411.96 1399.29 L413.42 1397.90 L414.88 1396.50 L416.34 1395.10 L417.79 1393.70 L419.24 1392.30 L420.69 1390.90 L422.14 1389.50 L423.59 1388.09 L425.04 1386.68 L426.49 1385.28 L427.94 1383.87 L429.38 1382.46 L430.83 1381.05 L432.28 1379.64 L433.72 1378.23 L435.17 1376.83 L436.62 1375.42 L438.07 1374.01 L439.52 1372.61 L440.97 1371.20 L442.42 1369.80 L443.87 1368.40 L445.32 1367.00 L446.78 1365.60 L448.24 1364.21 L449.70 1362.82 L451.16 1361.43 L452.62 1360.04 L454.09 1358.66 L455.56 1357.28 L457.03 1355.91 L458.50 1354.53 L459.98 1353.17 L461.46 1351.80 L462.95 1350.44 L464.43 1349.09 L465.92 1347.74 L467.42 1346.39 L468.92 1345.05 L470.42 1343.72 L471.92 1342.38 L473.43 1341.06 L474.94 1339.73 L476.46 1338.41 L477.98 1337.10 L479.50 1335.78 L481.02 1334.47 L482.55 1333.17 L484.07 1331.87 L485.61 1330.57 L487.14 1329.27 L488.68 1327.98 L490.21 1326.69 L491.76 1325.41 L493.30 1324.12 L494.84 1322.84 L496.39 1321.56 L497.94 1320.29 L499.49 1319.01 L501.05 1317.74 L502.60 1316.47 L504.16 1315.20 L505.72 1313.94 L507.28 1312.67 L508.84 1311.41 L510.40 1310.15 L511.96 1308.89 L513.53 1307.63 L515.10 1306.37 L516.66 1305.12 L518.23 1303.86 L519.80 1302.61 L521.37 1301.35 L522.94 1300.10 L524.51 1298.85 L526.08 1297.59 L527.66 1296.34 L529.23 1295.09 L530.80 1293.84 L532.38 1292.58 L533.95 1291.33 L535.52 1290.08 L537.10 1288.83 L538.67 1287.57 L540.24 1286.32 L541.82 1285.06 L543.39 1283.81 L544.96 1282.55 L546.54 1281.29 L548.11 1280.03 L549.68 1278.77 L551.25 1277.51 L552.82 1276.25 L554.39 1274.98" stroke="#fc5a56" stroke-width="2.2" fill="none" stroke-linejoin="round" stroke-linecap="round"/>
<path d="M160.67 1275.51 L160.97 1277.48 L161.32 1279.44 L161.70 1281.40 L162.13 1283.33 L162.59 1285.26 L163.09 1287.18 L163.63 1289.08 L164.21 1290.97 L164.82 1292.85 L165.47 1294.72 L166.15 1296.58 L166.86 1298.43 L167.60 1300.27 L168.38 1302.10 L169.18 1303.91 L170.01 1305.72 L170.87 1307.52 L171.75 1309.30 L172.66 1311.08 L173.60 1312.85 L174.55 1314.61 L175.53 1316.36 L176.53 1318.10 L177.55 1319.83 L178.59 1321.55 L179.65 1323.26 L180.72 1324.97 L181.82 1326.67 L182.92 1328.35 L184.04 1330.04 L185.17 1331.71 L186.32 1333.37 L187.47 1335.03 L188.64 1336.68 L189.82 1338.32 L191.00 1339.96 L192.19 1341.59 L193.38 1343.21 L194.59 1344.83 L195.79 1346.44 L197.01 1348.04 L198.23 1349.64 L199.45 1351.23 L200.68 1352.81 L201.91 1354.39 L203.15 1355.97 L204.40 1357.54 L205.65 1359.10 L206.90 1360.66 L208.16 1362.21 L209.43 1363.76 L210.69 1365.31 L211.97 1366.85 L213.24 1368.39 L214.52 1369.92 L215.81 1371.45 L217.10 1372.98 L218.39 1374.50 L219.69 1376.02 L220.98 1377.54 L222.29 1379.05 L223.59 1380.56 L224.90 1382.07 L226.22 1383.58 L227.53 1385.09 L228.85 1386.59 L230.17 1388.09 L231.50 1389.59 L232.82 1391.09 L234.15 1392.59 L235.48 1394.08 L236.82 1395.58 L238.15 1397.07 L239.49 1398.57 L240.83 1400.06 L242.17 1401.55 L243.51 1403.05 L244.86 1404.54 L246.20 1406.03 L247.55 1407.53 L248.90 1409.02 L250.25 1410.51 L251.61 1412.00 L252.97 1413.49 L254.32 1414.98 L255.69 1416.47 L257.05 1417.96 L258.42 1419.44 L259.79 1420.92 L261.16 1422.40 L262.53 1423.88 L263.91 1425.35 L265.29 1426.82 L266.68 1428.29 L268.07 1429.76 L269.46 1431.22 L270.86 1432.67 L272.26 1434.13 L273.66 1435.57 L275.07 1437.02 L276.48 1438.46 L277.90 1439.89 L279.32 1441.32 L280.74 1442.74 L282.17 1444.16 L283.61 1445.57 L285.05 1446.98 L286.49 1448.38 L287.95 1449.77 L289.40 1451.16 L290.86 1452.54 L292.33 1453.91 L293.80 1455.28 L295.28 1456.64 L296.76 1457.99 L298.25 1459.33 L299.74 1460.66 L301.25 1461.99 L302.75 1463.31 L304.27 1464.62 L305.79 1465.91 L307.32 1467.20 L308.85 1468.48 L310.39 1469.76 L311.94 1471.02 L313.49 1472.27 L315.06 1473.51 L316.62 1474.74 L318.20 1475.96 L319.79 1477.16 L321.38 1478.36 L322.98 1479.55 L324.59 1480.72 L326.20 1481.88 L327.83 1483.03 L329.46 1484.17 L331.10 1485.30 L332.75 1486.41 L334.40 1487.51 L336.07 1488.59 L337.75 1489.67 L339.43 1490.73 L341.12 1491.77 L342.82 1492.80 L344.54 1493.82 L346.26 1494.82 L347.99 1495.81 L349.73 1496.79 L351.48 1497.75 L353.24 1498.69 L355.01 1499.62 L356.79 1500.53 L358.58 1501.42 L360.38 1502.30 L362.19 1503.17 L364.01 1504.02 L365.84 1504.85 L367.68 1505.67 L369.52 1506.47 L371.38 1507.27 L373.24 1508.05 L375.11 1508.82 L376.99 1509.58 L378.87 1510.33 L380.75 1511.08 L382.65 1511.82 L384.54 1512.55 L386.44 1513.28 L388.34 1514.00 L390.24 1514.72 L392.15 1515.43 L394.06 1516.15 L395.96 1516.86 L397.87 1517.57 L399.78 1518.29 L401.68 1519.00 L403.59 1519.72 L405.49 1520.45 L407.39 1521.17 L409.29 1521.91 L411.18 1522.64 L413.07 1523.39 L414.95 1524.14 L416.83 1524.91 L418.70 1525.68 L420.57 1526.46 L422.43 1527.26 L424.28 1528.06 L426.12 1528.88 L427.95 1529.72 L429.78 1530.57 L431.59 1531.43 L433.40 1532.31 L435.19 1533.21 L436.97 1534.13 L438.74 1535.07 L440.50 1536.03 L442.24 1537.01 L443.97 1538.01 L445.69 1539.03 L447.39 1540.08 L449.07 1541.14 L450.74 1542.23 L452.39 1543.34 L454.01 1544.48 L455.62 1545.63 L457.21 1546.81 L458.78 1548.01 L460.33 1549.23 L461.85 1550.48 L463.35 1551.75 L464.82 1553.04 L466.27 1554.36 L467.69 1555.70 L469.09 1557.06 L470.46 1558.44 L471.80 1559.85 L473.10 1561.29 L474.38 1562.74 L475.63 1564.22 L476.85 1565.73 L478.03 1567.26 L479.18 1568.81 L480.29 1570.38 L481.37 1571.99 L482.41 1573.61 L483.42 1575.26 L484.38 1576.94 L485.31 1578.64 L486.21 1580.36 L487.06 1582.11 L487.88 1583.87 L488.67 1585.66 L489.42 1587.47 L490.15 1589.30 L490.84 1591.15 L491.50 1593.02 L492.14 1594.90 L492.75 1596.80 L493.34 1598.72 L493.90 1600.65 L494.43 1602.59 L494.95 1604.54 L495.45 1606.51 L495.92 1608.49 L496.38 1610.48 L496.82 1612.47 L497.25 1614.48 L497.66 1616.49 L498.06 1618.51 L498.44 1620.54 L498.82 1622.57 L499.18 1624.61 L499.54 1626.64 L499.89 1628.68 L500.24 1630.73 L500.58 1632.77 L500.91 1634.81 L501.25 1636.85 L501.58 1638.89 L501.91 1640.93 L502.24 1642.96 L502.58 1644.99 L502.92 1647.02 L503.27 1649.03 L503.62 1651.04 L503.97 1653.05 L504.34 1655.04 L504.71 1657.03 L505.09 1659.01 L505.48 1660.98 L505.87 1662.95 L506.27 1664.91 L506.67 1666.87 L507.08 1668.82 L507.50 1670.77 L507.92 1672.71 L508.34 1674.65 L508.77 1676.59 L509.21 1678.52 L509.64 1680.45 L510.09 1682.38 L510.53 1684.30 L510.98 1686.23 L511.44 1688.15 L511.89 1690.08 L512.35 1692.00 L512.81 1693.92 L513.28 1695.84 L513.74 1697.77 L514.21 1699.69 L514.68 1701.62 L515.15 1703.55 L515.62 1705.48 L516.10 1707.42 L516.57 1709.36 L517.05 1711.30 L517.52 1713.24 L518.00 1715.19 L518.47 1717.15 L518.95 1719.11 L519.42 1721.07 L519.90 1723.04 L520.37 1725.02 L520.84 1727.01 L521.31 1729.00" stroke="#b2bd3c" stroke-width="2.2" fill="none" stroke-linejoin="round" stroke-linecap="round"/>
<path d="M160.66 1275.51 L160.94 1277.50 L161.26 1279.47 L161.63 1281.44 L162.03 1283.39 L162.48 1285.32 L162.96 1287.25 L163.48 1289.16 L164.04 1291.06 L164.63 1292.94 L165.26 1294.82 L165.92 1296.68 L166.62 1298.53 L167.34 1300.38 L168.10 1302.20 L168.89 1304.02 L169.70 1305.83 L170.55 1307.63 L171.42 1309.42 L172.31 1311.19 L173.24 1312.96 L174.18 1314.72 L175.15 1316.47 L176.14 1318.20 L177.15 1319.93 L178.18 1321.65 L179.24 1323.37 L180.30 1325.07 L181.39 1326.77 L182.49 1328.46 L183.61 1330.14 L184.74 1331.81 L185.89 1333.47 L187.04 1335.13 L188.21 1336.78 L189.39 1338.43 L190.58 1340.07 L191.78 1341.70 L192.98 1343.32 L194.19 1344.94 L195.41 1346.56 L196.63 1348.17 L197.85 1349.77 L199.08 1351.37 L200.32 1352.96 L201.56 1354.55 L202.80 1356.13 L204.05 1357.71 L205.30 1359.29 L206.56 1360.85 L207.82 1362.42 L209.08 1363.98 L210.35 1365.54 L211.62 1367.09 L212.90 1368.64 L214.18 1370.18 L215.46 1371.72 L216.75 1373.26 L218.05 1374.80 L219.34 1376.33 L220.64 1377.86 L221.94 1379.38 L223.25 1380.90 L224.56 1382.42 L225.87 1383.94 L227.19 1385.45 L228.50 1386.96 L229.83 1388.47 L231.15 1389.98 L232.48 1391.49 L233.81 1392.99 L235.14 1394.49 L236.48 1395.99 L237.82 1397.49 L239.16 1398.99 L240.50 1400.48 L241.85 1401.98 L243.20 1403.47 L244.55 1404.96 L245.90 1406.45 L247.26 1407.94 L248.61 1409.43 L249.97 1410.92 L251.34 1412.41 L252.70 1413.90 L254.07 1415.39 L255.44 1416.87 L256.81 1418.35 L258.19 1419.83 L259.56 1421.31 L260.95 1422.78 L262.33 1424.26 L263.72 1425.73 L265.11 1427.19 L266.51 1428.65 L267.91 1430.11 L269.31 1431.57 L270.71 1433.02 L272.12 1434.47 L273.54 1435.91 L274.96 1437.35 L276.38 1438.78 L277.81 1440.21 L279.24 1441.63 L280.68 1443.05 L282.12 1444.46 L283.56 1445.87 L285.01 1447.27 L286.47 1448.66 L287.93 1450.05 L289.40 1451.43 L290.87 1452.80 L292.34 1454.17 L293.83 1455.53 L295.31 1456.88 L296.81 1458.22 L298.31 1459.56 L299.81 1460.88 L301.33 1462.20 L302.84 1463.51 L304.37 1464.81 L305.90 1466.11 L307.43 1467.39 L308.98 1468.66 L310.53 1469.92 L312.09 1471.18 L313.65 1472.42 L315.22 1473.66 L316.80 1474.88 L318.38 1476.09 L319.98 1477.29 L321.58 1478.48 L323.19 1479.66 L324.80 1480.83 L326.42 1481.98 L328.06 1483.13 L329.70 1484.26 L331.34 1485.38 L333.00 1486.48 L334.66 1487.57 L336.33 1488.65 L338.01 1489.72 L339.70 1490.77 L341.40 1491.81 L343.11 1492.84 L344.82 1493.85 L346.55 1494.85 L348.28 1495.83 L350.03 1496.80 L351.78 1497.75 L353.54 1498.69 L355.31 1499.61 L357.09 1500.52 L358.88 1501.41 L360.69 1502.29 L362.50 1503.15 L364.32 1503.99 L366.15 1504.82 L367.99 1505.62 L369.84 1506.42 L371.70 1507.19 L373.58 1507.95 L375.46 1508.69 L377.35 1509.42 L379.25 1510.13 L381.16 1510.83 L383.08 1511.51 L385.00 1512.19 L386.93 1512.86 L388.86 1513.51 L390.80 1514.16 L392.75 1514.80 L394.69 1515.44 L396.64 1516.07 L398.60 1516.69 L400.55 1517.32 L402.51 1517.94 L404.46 1518.56 L406.42 1519.18 L408.37 1519.80 L410.33 1520.42 L412.28 1521.05 L414.23 1521.68 L416.18 1522.32 L418.12 1522.96 L420.05 1523.61 L421.99 1524.27 L423.91 1524.94 L425.83 1525.62 L427.75 1526.30 L429.65 1527.01 L431.55 1527.72 L433.44 1528.45 L435.32 1529.20 L437.19 1529.96 L439.05 1530.74 L440.89 1531.53 L442.73 1532.35 L444.55 1533.19 L446.36 1534.05 L448.15 1534.93 L449.93 1535.83 L451.70 1536.76 L453.45 1537.72 L455.18 1538.70 L456.90 1539.71 L458.60 1540.74 L460.28 1541.79 L461.94 1542.88 L463.58 1543.99 L465.20 1545.12 L466.80 1546.28 L468.38 1547.46 L469.93 1548.67 L471.46 1549.91 L472.97 1551.16 L474.46 1552.45 L475.91 1553.76 L477.35 1555.09 L478.75 1556.45 L480.13 1557.83 L481.48 1559.24 L482.80 1560.67 L484.10 1562.12 L485.36 1563.60 L486.59 1565.11 L487.79 1566.64 L488.96 1568.19 L490.10 1569.77 L491.20 1571.37 L492.27 1572.99 L493.31 1574.64 L494.30 1576.31 L495.27 1578.01 L496.19 1579.73 L497.09 1581.47 L497.94 1583.23 L498.77 1585.02 L499.56 1586.82 L500.33 1588.64 L501.06 1590.49 L501.76 1592.35 L502.44 1594.22 L503.09 1596.12 L503.71 1598.02 L504.31 1599.95 L504.89 1601.88 L505.45 1603.83 L505.98 1605.79 L506.49 1607.76 L506.99 1609.74 L507.47 1611.73 L507.93 1613.73 L508.37 1615.74 L508.80 1617.75 L509.22 1619.77 L509.62 1621.79 L510.02 1623.82 L510.40 1625.85 L510.77 1627.89 L511.14 1629.92 L511.50 1631.96 L511.85 1634.00 L512.20 1636.04 L512.54 1638.07 L512.88 1640.11 L513.22 1642.14 L513.56 1644.16 L513.90 1646.18 L514.24 1648.20 L514.59 1650.21 L514.93 1652.22 L515.28 1654.22 L515.62 1656.22 L515.97 1658.21 L516.32 1660.20 L516.67 1662.18 L517.02 1664.17 L517.38 1666.14 L517.73 1668.12 L518.09 1670.09 L518.44 1672.06 L518.80 1674.03 L519.16 1675.99 L519.52 1677.96 L519.89 1679.92 L520.25 1681.88 L520.62 1683.83 L520.98 1685.79 L521.35 1687.75 L521.72 1689.70 L522.09 1691.66 L522.47 1693.61 L522.84 1695.57 L523.22 1697.52 L523.59 1699.47 L523.97 1701.43 L524.35 1703.39 L524.73 1705.34 L525.11 1707.30 L525.50 1709.26 L525.88 1711.22 L526.27 1713.19 L526.66 1715.15 L527.05 1717.12 L527.44 1719.09 L527.83 1721.07 L528.23 1723.04 L528.62 1725.02 L529.02 1727.01 L529.42 1728.99" stroke="#0e4a20" stroke-width="2.2" fill="none" stroke-linejoin="round" stroke-linecap="round"/>
<path d="M160.63 1275.50 L160.82 1277.55 L161.04 1279.58 L161.30 1281.60 L161.59 1283.61 L161.91 1285.60 L162.27 1287.58 L162.65 1289.54 L163.07 1291.50 L163.52 1293.44 L163.99 1295.36 L164.50 1297.28 L165.03 1299.18 L165.59 1301.07 L166.18 1302.95 L166.79 1304.81 L167.44 1306.67 L168.11 1308.51 L168.80 1310.35 L169.52 1312.17 L170.26 1313.98 L171.03 1315.78 L171.82 1317.57 L172.64 1319.35 L173.47 1321.13 L174.33 1322.89 L175.21 1324.64 L176.12 1326.38 L177.04 1328.12 L177.98 1329.84 L178.94 1331.56 L179.93 1333.26 L180.92 1334.96 L181.94 1336.66 L182.98 1338.34 L184.03 1340.02 L185.10 1341.69 L186.18 1343.35 L187.28 1345.00 L188.40 1346.65 L189.53 1348.29 L190.68 1349.93 L191.83 1351.56 L193.00 1353.18 L194.19 1354.80 L195.38 1356.41 L196.59 1358.01 L197.81 1359.61 L199.04 1361.21 L200.28 1362.80 L201.52 1364.39 L202.78 1365.97 L204.05 1367.55 L205.32 1369.12 L206.60 1370.70 L207.89 1372.26 L209.19 1373.83 L210.49 1375.39 L211.79 1376.94 L213.11 1378.50 L214.42 1380.05 L215.74 1381.60 L217.07 1383.15 L218.39 1384.70 L219.72 1386.24 L221.05 1387.78 L222.39 1389.33 L223.72 1390.87 L225.06 1392.41 L226.39 1393.95 L227.72 1395.48 L229.06 1397.02 L230.39 1398.56 L231.72 1400.10 L233.06 1401.63 L234.39 1403.16 L235.73 1404.70 L237.06 1406.23 L238.40 1407.76 L239.73 1409.28 L241.07 1410.81 L242.41 1412.33 L243.75 1413.85 L245.09 1415.37 L246.43 1416.88 L247.77 1418.40 L249.12 1419.90 L250.47 1421.41 L251.81 1422.91 L253.17 1424.41 L254.52 1425.91 L255.88 1427.40 L257.24 1428.88 L258.60 1430.37 L259.96 1431.84 L261.33 1433.32 L262.70 1434.79 L264.08 1436.25 L265.46 1437.71 L266.84 1439.16 L268.23 1440.61 L269.62 1442.05 L271.01 1443.49 L272.41 1444.92 L273.81 1446.34 L275.22 1447.76 L276.63 1449.17 L278.05 1450.58 L279.47 1451.97 L280.90 1453.37 L282.33 1454.75 L283.77 1456.13 L285.21 1457.50 L286.66 1458.86 L288.11 1460.21 L289.57 1461.56 L291.04 1462.90 L292.52 1464.23 L294.00 1465.55 L295.48 1466.86 L296.98 1468.16 L298.48 1469.46 L299.98 1470.74 L301.50 1472.02 L303.02 1473.29 L304.55 1474.55 L306.09 1475.79 L307.63 1477.03 L309.18 1478.26 L310.74 1479.48 L312.31 1480.68 L313.89 1481.88 L315.47 1483.06 L317.07 1484.24 L318.67 1485.40 L320.28 1486.56 L321.91 1487.70 L323.54 1488.83 L325.18 1489.94 L326.83 1491.05 L328.48 1492.14 L330.15 1493.22 L331.83 1494.29 L333.52 1495.35 L335.22 1496.39 L336.93 1497.42 L338.65 1498.44 L340.38 1499.44 L342.12 1500.43 L343.87 1501.41 L345.63 1502.38 L347.40 1503.33 L349.18 1504.28 L350.97 1505.21 L352.76 1506.13 L354.57 1507.05 L356.38 1507.95 L358.19 1508.85 L360.02 1509.74 L361.85 1510.62 L363.68 1511.49 L365.52 1512.36 L367.36 1513.22 L369.21 1514.08 L371.06 1514.93 L372.92 1515.78 L374.78 1516.62 L376.64 1517.46 L378.50 1518.30 L380.37 1519.14 L382.23 1519.97 L384.10 1520.80 L385.97 1521.63 L387.83 1522.46 L389.70 1523.29 L391.57 1524.12 L393.43 1524.96 L395.29 1525.79 L397.16 1526.63 L399.01 1527.47 L400.87 1528.31 L402.72 1529.16 L404.57 1530.01 L406.42 1530.86 L408.26 1531.72 L410.09 1532.59 L411.92 1533.46 L413.74 1534.34 L415.56 1535.23 L417.37 1536.12 L419.17 1537.03 L420.97 1537.94 L422.75 1538.87 L424.52 1539.81 L426.27 1540.77 L428.01 1541.75 L429.73 1542.74 L431.43 1543.76 L433.11 1544.80 L434.77 1545.86 L436.41 1546.94 L438.02 1548.06 L439.61 1549.20 L441.16 1550.37 L442.69 1551.57 L444.19 1552.81 L445.65 1554.08 L447.08 1555.39 L448.48 1556.74 L449.83 1558.12 L451.16 1559.54 L452.44 1561.00 L453.69 1562.49 L454.91 1564.02 L456.09 1565.57 L457.23 1567.16 L458.34 1568.78 L459.42 1570.42 L460.46 1572.09 L461.47 1573.78 L462.45 1575.50 L463.39 1577.24 L464.31 1579.00 L465.19 1580.78 L466.03 1582.57 L466.85 1584.38 L467.64 1586.21 L468.40 1588.05 L469.12 1589.91 L469.83 1591.78 L470.50 1593.67 L471.16 1595.56 L471.79 1597.47 L472.39 1599.39 L472.98 1601.32 L473.54 1603.26 L474.09 1605.21 L474.61 1607.17 L475.12 1609.14 L475.62 1611.11 L476.09 1613.09 L476.56 1615.07 L477.01 1617.07 L477.45 1619.06 L477.88 1621.06 L478.30 1623.06 L478.72 1625.07 L479.12 1627.08 L479.52 1629.09 L479.92 1631.10 L480.31 1633.11 L480.69 1635.11 L481.08 1637.12 L481.46 1639.13 L481.85 1641.13 L482.23 1643.13 L482.62 1645.13 L483.02 1647.12 L483.41 1649.11 L483.82 1651.09 L484.23 1653.06 L484.64 1655.03 L485.07 1656.99 L485.50 1658.95 L485.93 1660.90 L486.37 1662.85 L486.82 1664.80 L487.27 1666.73 L487.72 1668.67 L488.18 1670.60 L488.64 1672.53 L489.11 1674.46 L489.57 1676.39 L490.04 1678.31 L490.52 1680.23 L490.99 1682.16 L491.46 1684.08 L491.94 1686.00 L492.42 1687.92 L492.90 1689.84 L493.37 1691.77 L493.85 1693.69 L494.33 1695.62 L494.80 1697.55 L495.28 1699.48 L495.75 1701.41 L496.22 1703.35 L496.69 1705.29 L497.16 1707.23 L497.62 1709.18 L498.08 1711.14 L498.53 1713.10 L498.99 1715.06 L499.43 1717.03 L499.87 1719.01 L500.31 1720.99 L500.74 1722.98 L501.17 1724.98 L501.59 1726.99 L502.00 1729.00" stroke="#efb444" stroke-width="2.2" fill="none" stroke-linejoin="round" stroke-linecap="round"/>
<path d="M160.66 1275.50 L160.75 1277.53 L160.89 1279.54 L161.08 1281.54 L161.32 1283.53 L161.60 1285.50 L161.94 1287.46 L162.31 1289.41 L162.73 1291.35 L163.20 1293.28 L163.70 1295.19 L164.24 1297.09 L164.83 1298.99 L165.45 1300.87 L166.10 1302.73 L166.79 1304.59 L167.52 1306.44 L168.27 1308.27 L169.06 1310.10 L169.87 1311.91 L170.72 1313.72 L171.59 1315.51 L172.48 1317.30 L173.40 1319.08 L174.35 1320.84 L175.31 1322.60 L176.30 1324.34 L177.30 1326.08 L178.32 1327.81 L179.36 1329.53 L180.41 1331.24 L181.48 1332.95 L182.56 1334.64 L183.65 1336.33 L184.75 1338.01 L185.86 1339.68 L186.98 1341.34 L188.11 1343.00 L189.25 1344.65 L190.40 1346.29 L191.55 1347.93 L192.72 1349.55 L193.89 1351.18 L195.07 1352.79 L196.26 1354.40 L197.46 1356.01 L198.66 1357.61 L199.87 1359.20 L201.09 1360.79 L202.31 1362.38 L203.54 1363.96 L204.78 1365.53 L206.02 1367.10 L207.26 1368.67 L208.52 1370.23 L209.78 1371.79 L211.04 1373.35 L212.31 1374.90 L213.58 1376.46 L214.85 1378.00 L216.13 1379.55 L217.42 1381.09 L218.71 1382.63 L220.00 1384.17 L221.29 1385.71 L222.59 1387.24 L223.89 1388.78 L225.19 1390.31 L226.49 1391.84 L227.80 1393.38 L229.11 1394.91 L230.42 1396.44 L231.73 1397.97 L233.04 1399.50 L234.35 1401.03 L235.67 1402.56 L236.98 1404.09 L238.30 1405.62 L239.62 1407.15 L240.94 1408.68 L242.27 1410.20 L243.60 1411.72 L244.92 1413.24 L246.26 1414.76 L247.59 1416.28 L248.93 1417.80 L250.27 1419.31 L251.61 1420.82 L252.96 1422.32 L254.30 1423.82 L255.66 1425.32 L257.01 1426.82 L258.37 1428.31 L259.74 1429.80 L261.10 1431.28 L262.48 1432.76 L263.85 1434.23 L265.23 1435.70 L266.62 1437.16 L268.00 1438.62 L269.40 1440.07 L270.80 1441.52 L272.20 1442.96 L273.61 1444.39 L275.02 1445.82 L276.44 1447.25 L277.86 1448.66 L279.29 1450.07 L280.73 1451.47 L282.17 1452.86 L283.61 1454.25 L285.07 1455.63 L286.53 1457.00 L287.99 1458.36 L289.46 1459.71 L290.94 1461.06 L292.42 1462.40 L293.92 1463.72 L295.41 1465.04 L296.92 1466.35 L298.43 1467.65 L299.95 1468.94 L301.48 1470.22 L303.01 1471.49 L304.55 1472.75 L306.10 1474.00 L307.66 1475.24 L309.23 1476.46 L310.80 1477.68 L312.38 1478.89 L313.97 1480.08 L315.57 1481.26 L317.18 1482.43 L318.80 1483.59 L320.42 1484.73 L322.05 1485.86 L323.70 1486.98 L325.35 1488.09 L327.01 1489.18 L328.68 1490.26 L330.36 1491.33 L332.05 1492.38 L333.75 1493.42 L335.46 1494.44 L337.19 1495.45 L338.92 1496.45 L340.66 1497.43 L342.41 1498.39 L344.17 1499.34 L345.94 1500.28 L347.73 1501.20 L349.52 1502.10 L351.32 1502.99 L353.13 1503.87 L354.95 1504.74 L356.78 1505.60 L358.62 1506.44 L360.46 1507.27 L362.31 1508.10 L364.17 1508.92 L366.03 1509.72 L367.89 1510.53 L369.76 1511.32 L371.64 1512.11 L373.52 1512.89 L375.40 1513.67 L377.29 1514.44 L379.17 1515.22 L381.06 1515.98 L382.95 1516.75 L384.84 1517.52 L386.73 1518.28 L388.63 1519.05 L390.52 1519.82 L392.41 1520.58 L394.29 1521.36 L396.18 1522.13 L398.06 1522.91 L399.94 1523.69 L401.82 1524.48 L403.70 1525.27 L405.56 1526.07 L407.43 1526.88 L409.29 1527.69 L411.14 1528.51 L412.99 1529.35 L414.83 1530.19 L416.66 1531.04 L418.48 1531.91 L420.30 1532.78 L422.11 1533.67 L423.90 1534.57 L425.69 1535.49 L427.47 1536.42 L429.24 1537.37 L430.99 1538.33 L432.73 1539.31 L434.46 1540.31 L436.17 1541.33 L437.86 1542.37 L439.54 1543.43 L441.19 1544.51 L442.82 1545.62 L444.43 1546.74 L446.02 1547.89 L447.58 1549.07 L449.12 1550.27 L450.63 1551.50 L452.11 1552.76 L453.56 1554.05 L454.98 1555.36 L456.37 1556.71 L457.72 1558.08 L459.05 1559.49 L460.34 1560.92 L461.60 1562.38 L462.83 1563.86 L464.02 1565.38 L465.19 1566.92 L466.32 1568.48 L467.42 1570.07 L468.49 1571.69 L469.52 1573.32 L470.52 1574.99 L471.49 1576.67 L472.43 1578.38 L473.34 1580.11 L474.21 1581.86 L475.05 1583.63 L475.87 1585.42 L476.65 1587.22 L477.41 1589.05 L478.14 1590.89 L478.84 1592.75 L479.52 1594.63 L480.17 1596.52 L480.81 1598.43 L481.42 1600.35 L482.00 1602.28 L482.57 1604.22 L483.12 1606.18 L483.65 1608.14 L484.16 1610.12 L484.65 1612.10 L485.13 1614.09 L485.60 1616.09 L486.05 1618.10 L486.49 1620.11 L486.91 1622.13 L487.33 1624.15 L487.73 1626.18 L488.12 1628.20 L488.51 1630.24 L488.89 1632.27 L489.26 1634.30 L489.63 1636.33 L489.99 1638.37 L490.35 1640.40 L490.71 1642.42 L491.06 1644.45 L491.41 1646.47 L491.77 1648.49 L492.12 1650.50 L492.48 1652.50 L492.84 1654.50 L493.20 1656.50 L493.56 1658.48 L493.92 1660.46 L494.29 1662.44 L494.66 1664.42 L495.03 1666.38 L495.40 1668.35 L495.77 1670.31 L496.15 1672.27 L496.52 1674.22 L496.90 1676.17 L497.28 1678.12 L497.66 1680.07 L498.04 1682.01 L498.42 1683.96 L498.81 1685.90 L499.19 1687.84 L499.58 1689.79 L499.97 1691.73 L500.35 1693.67 L500.74 1695.61 L501.13 1697.55 L501.52 1699.50 L501.91 1701.44 L502.30 1703.39 L502.70 1705.34 L503.09 1707.29 L503.48 1709.24 L503.87 1711.20 L504.27 1713.16 L504.66 1715.12 L505.05 1717.09 L505.45 1719.06 L505.84 1721.04 L506.23 1723.02 L506.62 1725.00 L507.02 1727.00 L507.41 1728.99" stroke="#fc5a56" stroke-width="2.2" fill="none" stroke-linejoin="round" stroke-linecap="round"/>
<path d="M933.60 1729.00 C933.72 1719.17 934.07 1691.67 934.30 1670.00 C934.53 1648.33 934.72 1620.33 935.00 1599.00 C935.28 1577.67 935.83 1551.50 936.00 1542.00" stroke="#0e4a20" stroke-width="2.2" fill="none" stroke-linejoin="round" stroke-linecap="round"/>
<path d="M936.01 1542.00 L936.17 1540.11 L936.29 1538.19 L936.37 1536.22 L936.43 1534.22 L936.46 1532.19 L936.47 1530.13 L936.48 1528.06 L936.48 1525.97 L936.47 1523.87 L936.48 1521.76 L936.50 1519.64 L936.53 1517.53 L936.59 1515.43 L936.68 1513.33 L936.81 1511.25 L936.97 1509.19 L937.18 1507.15 L937.45 1505.14 L937.77 1503.15 L938.15 1501.21 L938.60 1499.30 L939.11 1497.43 L939.69 1495.60 L940.35 1493.82 L941.08 1492.09 L941.89 1490.41 L942.79 1488.79 L943.76 1487.22 L944.81 1485.70 L945.93 1484.24 L947.13 1482.83 L948.40 1481.47 L949.75 1480.17 L951.16 1478.92 L952.63 1477.71 L954.17 1476.55 L955.75 1475.43 L957.38 1474.35 L959.06 1473.30 L960.78 1472.29 L962.52 1471.30 L964.30 1470.34 L966.11 1469.41 L967.93 1468.49 L969.77 1467.59 L971.62 1466.70 L973.48 1465.82 L975.34 1464.96 L977.22 1464.11 L979.10 1463.27 L980.99 1462.45 L982.88 1461.63 L984.78 1460.82 L986.67 1460.02 L988.57 1459.23 L990.47 1458.44 L992.36 1457.66 L994.26 1456.89 L996.15 1456.12 L998.04 1455.36 L999.92 1454.60 L1001.80 1453.84 L1003.68 1453.09 L1005.56 1452.35 L1007.43 1451.60 L1009.31 1450.86 L1011.18 1450.12 L1013.04 1449.39 L1014.91 1448.65 L1016.77 1447.92 L1018.63 1447.18 L1020.49 1446.45 L1022.35 1445.72 L1024.20 1444.99 L1026.06 1444.25 L1027.91 1443.52 L1029.76 1442.78 L1031.61 1442.04 L1033.46 1441.30 L1035.31 1440.56 L1037.15 1439.81 L1039.00 1439.06 L1040.84 1438.31 L1042.68 1437.55 L1044.52 1436.79 L1046.37 1436.02 L1048.21 1435.25 L1050.04 1434.47 L1051.88 1433.69 L1053.72 1432.90 L1055.56 1432.11 L1057.39 1431.32 L1059.23 1430.52 L1061.06 1429.71 L1062.89 1428.90 L1064.72 1428.09 L1066.56 1427.27 L1068.38 1426.45 L1070.21 1425.62 L1072.04 1424.79 L1073.87 1423.95 L1075.69 1423.11 L1077.51 1422.27 L1079.34 1421.42 L1081.16 1420.57 L1082.98 1419.71 L1084.80 1418.86 L1086.61 1417.99 L1088.43 1417.13 L1090.24 1416.26 L1092.06 1415.38 L1093.87 1414.50 L1095.68 1413.62 L1097.49 1412.74 L1099.30 1411.85 L1101.10 1410.96 L1102.91 1410.06 L1104.71 1409.17 L1106.51 1408.27 L1108.31 1407.36 L1110.11 1406.45 L1111.90 1405.54 L1113.70 1404.63 L1115.49 1403.71 L1117.28 1402.79 L1119.07 1401.86 L1120.86 1400.94 L1122.64 1400.00 L1124.43 1399.07 L1126.21 1398.13 L1127.99 1397.19 L1129.76 1396.24 L1131.54 1395.29 L1133.31 1394.34 L1135.08 1393.38 L1136.85 1392.42 L1138.62 1391.45 L1140.39 1390.49 L1142.15 1389.52 L1143.91 1388.54 L1145.67 1387.56 L1147.43 1386.58 L1149.18 1385.59 L1150.93 1384.60 L1152.68 1383.61 L1154.43 1382.61 L1156.18 1381.60 L1157.92 1380.60 L1159.66 1379.59 L1161.40 1378.57 L1163.13 1377.56 L1164.87 1376.53 L1166.60 1375.51 L1168.33 1374.48 L1170.05 1373.44 L1171.77 1372.41 L1173.49 1371.36 L1175.21 1370.32 L1176.93 1369.27 L1178.64 1368.21 L1180.35 1367.15 L1182.06 1366.09 L1183.76 1365.03 L1185.46 1363.95 L1187.16 1362.88 L1188.85 1361.80 L1190.55 1360.71 L1192.24 1359.63 L1193.92 1358.53 L1195.61 1357.44 L1197.29 1356.34 L1198.97 1355.23 L1200.64 1354.12 L1202.31 1353.01 L1203.98 1351.89 L1205.65 1350.76 L1207.31 1349.64 L1208.97 1348.50 L1210.63 1347.37 L1212.28 1346.23 L1213.93 1345.08 L1215.58 1343.93 L1217.22 1342.78 L1218.86 1341.62 L1220.50 1340.45 L1222.13 1339.28 L1223.76 1338.11 L1225.38 1336.93 L1227.01 1335.75 L1228.63 1334.56 L1230.24 1333.37 L1231.85 1332.17 L1233.46 1330.97 L1235.07 1329.76 L1236.67 1328.55 L1238.27 1327.34 L1239.86 1326.11 L1241.45 1324.89 L1243.04 1323.66 L1244.62 1322.42 L1246.20 1321.18 L1247.78 1319.93 L1249.35 1318.68 L1250.92 1317.43 L1252.48 1316.17 L1254.04 1314.90 L1255.60 1313.63 L1257.15 1312.35 L1258.70 1311.07 L1260.24 1309.79 L1261.78 1308.50 L1263.32 1307.20 L1264.85 1305.90 L1266.38 1304.59 L1267.90 1303.28 L1269.42 1301.96 L1270.94 1300.64 L1272.45 1299.31 L1273.95 1297.98 L1275.46 1296.64 L1276.95 1295.30 L1278.45 1293.95 L1279.94 1292.59 L1281.42 1291.23 L1282.90 1289.87 L1284.38 1288.50 L1285.85 1287.12 L1287.32 1285.74 L1288.78 1284.35 L1290.24 1282.96 L1291.70 1281.56 L1293.14 1280.16 L1294.59 1278.75 L1296.03 1277.34 L1297.47 1275.92 L1298.90 1274.49" stroke="#0e4a20" stroke-width="2.2" fill="none" stroke-linejoin="round" stroke-linecap="round"/>
<path d="M933.60 1729.00 C933.72 1719.17 934.07 1691.67 934.30 1670.00 C934.53 1648.33 934.75 1620.33 935.00 1599.00 C935.25 1577.67 935.67 1551.50 935.80 1542.00" stroke="#b2bd3c" stroke-width="2.2" fill="none" stroke-linejoin="round" stroke-linecap="round"/>
<path d="M935.81 1542.00 L935.94 1540.11 L936.03 1538.18 L936.11 1536.22 L936.16 1534.23 L936.19 1532.22 L936.22 1530.18 L936.23 1528.12 L936.24 1526.05 L936.25 1523.97 L936.26 1521.87 L936.29 1519.78 L936.32 1517.68 L936.37 1515.57 L936.44 1513.48 L936.54 1511.39 L936.66 1509.31 L936.82 1507.25 L937.02 1505.20 L937.25 1503.17 L937.53 1501.17 L937.87 1499.20 L938.25 1497.25 L938.70 1495.34 L939.21 1493.47 L939.78 1491.64 L940.42 1489.85 L941.14 1488.10 L941.94 1486.41 L942.82 1484.77 L943.79 1483.19 L944.85 1481.67 L946.00 1480.21 L947.23 1478.80 L948.55 1477.45 L949.93 1476.16 L951.38 1474.91 L952.90 1473.72 L954.47 1472.56 L956.09 1471.46 L957.76 1470.39 L959.46 1469.36 L961.20 1468.37 L962.97 1467.41 L964.77 1466.48 L966.58 1465.58 L968.42 1464.71 L970.28 1463.86 L972.15 1463.03 L974.04 1462.22 L975.94 1461.42 L977.84 1460.63 L979.75 1459.86 L981.67 1459.09 L983.58 1458.32 L985.49 1457.56 L987.40 1456.80 L989.30 1456.04 L991.21 1455.28 L993.11 1454.52 L995.01 1453.76 L996.90 1453.01 L998.79 1452.25 L1000.69 1451.49 L1002.57 1450.74 L1004.46 1449.98 L1006.34 1449.22 L1008.23 1448.47 L1010.10 1447.71 L1011.98 1446.95 L1013.86 1446.19 L1015.73 1445.43 L1017.60 1444.67 L1019.47 1443.91 L1021.33 1443.15 L1023.19 1442.39 L1025.06 1441.63 L1026.91 1440.86 L1028.77 1440.09 L1030.63 1439.33 L1032.48 1438.55 L1034.33 1437.78 L1036.18 1437.01 L1038.03 1436.23 L1039.87 1435.45 L1041.71 1434.67 L1043.55 1433.89 L1045.39 1433.10 L1047.23 1432.31 L1049.06 1431.52 L1050.90 1430.72 L1052.73 1429.92 L1054.56 1429.12 L1056.39 1428.31 L1058.21 1427.51 L1060.04 1426.69 L1061.86 1425.88 L1063.68 1425.05 L1065.50 1424.23 L1067.32 1423.40 L1069.13 1422.57 L1070.95 1421.73 L1072.76 1420.89 L1074.57 1420.04 L1076.38 1419.19 L1078.19 1418.33 L1080.00 1417.47 L1081.80 1416.60 L1083.61 1415.73 L1085.41 1414.85 L1087.21 1413.97 L1089.01 1413.08 L1090.81 1412.18 L1092.60 1411.28 L1094.40 1410.38 L1096.19 1409.46 L1097.98 1408.55 L1099.77 1407.62 L1101.56 1406.70 L1103.34 1405.76 L1105.13 1404.82 L1106.91 1403.88 L1108.68 1402.93 L1110.46 1401.97 L1112.23 1401.01 L1114.00 1400.04 L1115.77 1399.06 L1117.54 1398.08 L1119.30 1397.10 L1121.06 1396.11 L1122.82 1395.11 L1124.57 1394.11 L1126.32 1393.10 L1128.07 1392.08 L1129.82 1391.06 L1131.56 1390.04 L1133.30 1389.00 L1135.04 1387.97 L1136.77 1386.92 L1138.50 1385.87 L1140.22 1384.82 L1141.94 1383.75 L1143.66 1382.69 L1145.38 1381.61 L1147.09 1380.53 L1148.79 1379.45 L1150.49 1378.36 L1152.19 1377.26 L1153.89 1376.16 L1155.58 1375.05 L1157.26 1373.93 L1158.95 1372.81 L1160.62 1371.69 L1162.30 1370.55 L1163.96 1369.41 L1165.63 1368.27 L1167.29 1367.12 L1168.94 1365.96 L1170.59 1364.80 L1172.24 1363.63 L1173.88 1362.45 L1175.51 1361.27 L1177.14 1360.08 L1178.77 1358.89 L1180.39 1357.69 L1182.00 1356.48 L1183.61 1355.27 L1185.21 1354.05 L1186.81 1352.82 L1188.40 1351.59 L1189.99 1350.36 L1191.57 1349.11 L1193.15 1347.86 L1194.72 1346.61 L1196.28 1345.35 L1197.84 1344.08 L1199.40 1342.81 L1200.95 1341.54 L1202.50 1340.26 L1204.05 1338.97 L1205.59 1337.68 L1207.12 1336.39 L1208.65 1335.09 L1210.18 1333.79 L1211.71 1332.49 L1213.23 1331.18 L1214.76 1329.87 L1216.27 1328.55 L1217.79 1327.24 L1219.30 1325.92 L1220.82 1324.59 L1222.33 1323.27 L1223.83 1321.94 L1225.34 1320.62 L1226.85 1319.29 L1228.35 1317.96 L1229.85 1316.62 L1231.36 1315.29 L1232.86 1313.96 L1234.36 1312.62 L1235.86 1311.29 L1237.37 1309.95 L1238.87 1308.61 L1240.37 1307.28 L1241.87 1305.94 L1243.38 1304.61 L1244.88 1303.27 L1246.39 1301.94 L1247.89 1300.61 L1249.40 1299.28 L1250.91 1297.95 L1252.43 1296.62 L1253.94 1295.29 L1255.46 1293.97 L1256.97 1292.65 L1258.50 1291.33 L1260.02 1290.01 L1261.55 1288.70 L1263.08 1287.39 L1264.61 1286.08 L1266.15 1284.78 L1267.69 1283.48 L1269.23 1282.18 L1270.78 1280.89 L1272.33 1279.60 L1273.89 1278.31 L1275.45 1277.03 L1277.02 1275.76 L1278.59 1274.49" stroke="#b2bd3c" stroke-width="2.2" fill="none" stroke-linejoin="round" stroke-linecap="round"/>
<path d="M933.40 1729.00 C933.52 1719.17 933.87 1691.67 934.10 1670.00 C934.33 1648.33 934.57 1620.33 934.80 1599.00 C935.03 1577.67 935.38 1551.50 935.50 1542.00" stroke="#fc5a56" stroke-width="2.2" fill="none" stroke-linejoin="round" stroke-linecap="round"/>
<path d="M935.49 1541.99 L935.79 1540.13 L936.05 1538.25 L936.26 1536.34 L936.43 1534.41 L936.56 1532.46 L936.65 1530.48 L936.71 1528.48 L936.75 1526.46 L936.76 1524.42 L936.74 1522.36 L936.71 1520.28 L936.66 1518.19 L936.59 1516.07 L936.52 1513.94 L936.44 1511.80 L936.36 1509.64 L936.28 1507.46 L936.21 1505.29 L936.16 1503.11 L936.14 1500.95 L936.16 1498.80 L936.23 1496.67 L936.35 1494.58 L936.54 1492.53 L936.81 1490.52 L937.16 1488.57 L937.60 1486.68 L938.15 1484.86 L938.80 1483.11 L939.56 1481.43 L940.42 1479.82 L941.38 1478.28 L942.42 1476.80 L943.55 1475.37 L944.77 1474.00 L946.05 1472.69 L947.41 1471.42 L948.83 1470.21 L950.32 1469.03 L951.86 1467.90 L953.45 1466.80 L955.09 1465.74 L956.77 1464.70 L958.49 1463.70 L960.24 1462.72 L962.01 1461.77 L963.81 1460.83 L965.62 1459.91 L967.45 1459.00 L969.29 1458.10 L971.13 1457.20 L972.97 1456.32 L974.80 1455.43 L976.64 1454.56 L978.48 1453.68 L980.33 1452.81 L982.17 1451.95 L984.01 1451.09 L985.85 1450.23 L987.69 1449.38 L989.53 1448.53 L991.38 1447.68 L993.22 1446.84 L995.06 1446.00 L996.90 1445.16 L998.75 1444.32 L1000.59 1443.49 L1002.43 1442.66 L1004.27 1441.83 L1006.11 1441.00 L1007.96 1440.18 L1009.80 1439.35 L1011.64 1438.53 L1013.48 1437.71 L1015.32 1436.89 L1017.16 1436.07 L1019.00 1435.25 L1020.84 1434.43 L1022.68 1433.61 L1024.51 1432.79 L1026.35 1431.97 L1028.19 1431.15 L1030.02 1430.33 L1031.86 1429.51 L1033.69 1428.69 L1035.53 1427.86 L1037.36 1427.04 L1039.19 1426.21 L1041.02 1425.39 L1042.85 1424.56 L1044.68 1423.73 L1046.51 1422.89 L1048.34 1422.06 L1050.16 1421.22 L1051.99 1420.38 L1053.81 1419.53 L1055.63 1418.68 L1057.45 1417.83 L1059.27 1416.98 L1061.09 1416.12 L1062.91 1415.26 L1064.72 1414.39 L1066.53 1413.52 L1068.35 1412.65 L1070.16 1411.77 L1071.97 1410.88 L1073.77 1410.00 L1075.58 1409.10 L1077.38 1408.20 L1079.18 1407.30 L1080.98 1406.39 L1082.78 1405.48 L1084.58 1404.56 L1086.37 1403.64 L1088.16 1402.71 L1089.95 1401.77 L1091.73 1400.83 L1093.52 1399.89 L1095.30 1398.94 L1097.08 1397.98 L1098.85 1397.02 L1100.63 1396.06 L1102.39 1395.08 L1104.16 1394.11 L1105.92 1393.12 L1107.69 1392.13 L1109.44 1391.14 L1111.20 1390.14 L1112.95 1389.13 L1114.69 1388.12 L1116.44 1387.10 L1118.18 1386.08 L1119.91 1385.05 L1121.65 1384.01 L1123.37 1382.97 L1125.10 1381.92 L1126.82 1380.87 L1128.54 1379.80 L1130.25 1378.74 L1131.96 1377.66 L1133.66 1376.58 L1135.36 1375.50 L1137.06 1374.40 L1138.75 1373.30 L1140.43 1372.20 L1142.11 1371.08 L1143.79 1369.96 L1145.46 1368.84 L1147.13 1367.70 L1148.79 1366.56 L1150.45 1365.42 L1152.10 1364.26 L1153.75 1363.10 L1155.39 1361.93 L1157.02 1360.76 L1158.65 1359.58 L1160.28 1358.39 L1161.90 1357.19 L1163.51 1355.99 L1165.12 1354.78 L1166.72 1353.56 L1168.32 1352.33 L1169.91 1351.10 L1171.49 1349.86 L1173.07 1348.61 L1174.64 1347.35 L1176.21 1346.09 L1177.77 1344.82 L1179.33 1343.54 L1180.88 1342.26 L1182.42 1340.97 L1183.97 1339.68 L1185.50 1338.38 L1187.03 1337.07 L1188.56 1335.76 L1190.09 1334.45 L1191.61 1333.13 L1193.12 1331.80 L1194.63 1330.47 L1196.14 1329.14 L1197.65 1327.80 L1199.15 1326.46 L1200.65 1325.11 L1202.15 1323.76 L1203.64 1322.41 L1205.13 1321.05 L1206.62 1319.69 L1208.11 1318.33 L1209.59 1316.96 L1211.08 1315.60 L1212.56 1314.23 L1214.04 1312.86 L1215.52 1311.48 L1216.99 1310.11 L1218.47 1308.73 L1219.94 1307.36 L1221.42 1305.98 L1222.89 1304.60 L1224.37 1303.22 L1225.84 1301.84 L1227.31 1300.47 L1228.79 1299.09 L1230.26 1297.71 L1231.73 1296.33 L1233.21 1294.95 L1234.68 1293.57 L1236.16 1292.20 L1237.64 1290.82 L1239.11 1289.45 L1240.59 1288.08 L1242.07 1286.71 L1243.56 1285.34 L1245.04 1283.98 L1246.53 1282.61 L1248.02 1281.25 L1249.51 1279.90 L1251.00 1278.54 L1252.50 1277.19 L1254.00 1275.84 L1255.50 1274.50" stroke="#fc5a56" stroke-width="2.2" fill="none" stroke-linejoin="round" stroke-linecap="round"/>
<path d="M933.60 1729.00 C933.72 1719.23 934.07 1692.10 934.30 1670.40 C934.53 1648.70 934.77 1620.27 935.00 1598.80 C935.23 1577.33 935.58 1551.13 935.70 1541.60" stroke="#eeb63c" stroke-width="2.2" fill="none" stroke-linejoin="round" stroke-linecap="round"/>
<path d="M935.70 1541.59 L936.01 1539.76 L936.27 1537.89 L936.46 1535.98 L936.61 1534.04 L936.71 1532.06 L936.77 1530.05 L936.80 1528.02 L936.80 1525.96 L936.77 1523.89 L936.73 1521.80 L936.68 1519.69 L936.63 1517.57 L936.57 1515.44 L936.52 1513.31 L936.48 1511.18 L936.46 1509.05 L936.46 1506.92 L936.50 1504.80 L936.56 1502.70 L936.67 1500.60 L936.82 1498.53 L937.03 1496.49 L937.29 1494.47 L937.61 1492.50 L938.00 1490.56 L938.47 1488.67 L939.01 1486.83 L939.64 1485.05 L940.35 1483.32 L941.17 1481.67 L942.08 1480.08 L943.08 1478.56 L944.17 1477.10 L945.34 1475.70 L946.59 1474.36 L947.91 1473.06 L949.31 1471.82 L950.76 1470.63 L952.28 1469.48 L953.86 1468.37 L955.48 1467.30 L957.15 1466.26 L958.86 1465.26 L960.61 1464.29 L962.40 1463.34 L964.21 1462.42 L966.04 1461.51 L967.90 1460.62 L969.76 1459.75 L971.64 1458.89 L973.52 1458.04 L975.41 1457.19 L977.29 1456.34 L979.17 1455.50 L981.05 1454.66 L982.92 1453.83 L984.80 1453.00 L986.67 1452.17 L988.54 1451.34 L990.41 1450.52 L992.28 1449.70 L994.15 1448.88 L996.01 1448.06 L997.87 1447.25 L999.74 1446.43 L1001.60 1445.62 L1003.45 1444.81 L1005.31 1444.00 L1007.17 1443.19 L1009.02 1442.38 L1010.87 1441.57 L1012.72 1440.77 L1014.57 1439.96 L1016.42 1439.16 L1018.27 1438.35 L1020.11 1437.54 L1021.96 1436.74 L1023.80 1435.93 L1025.64 1435.12 L1027.48 1434.31 L1029.31 1433.51 L1031.15 1432.70 L1032.99 1431.88 L1034.82 1431.07 L1036.65 1430.26 L1038.48 1429.44 L1040.31 1428.62 L1042.14 1427.80 L1043.96 1426.98 L1045.79 1426.16 L1047.61 1425.33 L1049.43 1424.50 L1051.25 1423.67 L1053.07 1422.83 L1054.89 1421.99 L1056.71 1421.15 L1058.52 1420.30 L1060.34 1419.45 L1062.15 1418.60 L1063.96 1417.74 L1065.77 1416.88 L1067.58 1416.02 L1069.39 1415.15 L1071.19 1414.27 L1073.00 1413.39 L1074.80 1412.51 L1076.60 1411.62 L1078.41 1410.72 L1080.20 1409.82 L1082.00 1408.92 L1083.80 1408.01 L1085.59 1407.09 L1087.39 1406.17 L1089.18 1405.24 L1090.97 1404.31 L1092.75 1403.37 L1094.54 1402.43 L1096.32 1401.48 L1098.10 1400.52 L1099.88 1399.56 L1101.65 1398.59 L1103.42 1397.62 L1105.19 1396.64 L1106.96 1395.66 L1108.72 1394.67 L1110.48 1393.67 L1112.24 1392.67 L1113.99 1391.66 L1115.74 1390.64 L1117.49 1389.62 L1119.23 1388.59 L1120.97 1387.56 L1122.70 1386.52 L1124.44 1385.47 L1126.16 1384.41 L1127.89 1383.35 L1129.60 1382.29 L1131.32 1381.21 L1133.03 1380.13 L1134.73 1379.04 L1136.43 1377.95 L1138.13 1376.85 L1139.82 1375.74 L1141.51 1374.62 L1143.19 1373.50 L1144.87 1372.37 L1146.54 1371.23 L1148.20 1370.09 L1149.86 1368.94 L1151.52 1367.78 L1153.17 1366.61 L1154.81 1365.44 L1156.45 1364.26 L1158.08 1363.07 L1159.71 1361.87 L1161.32 1360.67 L1162.94 1359.46 L1164.54 1358.24 L1166.15 1357.01 L1167.74 1355.78 L1169.33 1354.53 L1170.91 1353.28 L1172.48 1352.03 L1174.05 1350.76 L1175.61 1349.48 L1177.16 1348.20 L1178.71 1346.91 L1180.25 1345.61 L1181.78 1344.31 L1183.31 1343.00 L1184.83 1341.68 L1186.35 1340.36 L1187.86 1339.03 L1189.37 1337.69 L1190.88 1336.36 L1192.38 1335.01 L1193.88 1333.67 L1195.37 1332.31 L1196.86 1330.96 L1198.35 1329.60 L1199.83 1328.24 L1201.32 1326.88 L1202.80 1325.52 L1204.28 1324.15 L1205.76 1322.78 L1207.24 1321.41 L1208.72 1320.05 L1210.20 1318.68 L1211.67 1317.31 L1213.15 1315.94 L1214.63 1314.57 L1216.11 1313.20 L1217.59 1311.84 L1219.08 1310.48 L1220.56 1309.12 L1222.05 1307.76 L1223.54 1306.40 L1225.03 1305.05 L1226.53 1303.70 L1228.03 1302.36 L1229.53 1301.02 L1231.04 1299.68 L1232.55 1298.35 L1234.06 1297.03 L1235.58 1295.71 L1237.11 1294.39 L1238.64 1293.09 L1240.18 1291.79 L1241.72 1290.49 L1243.27 1289.21 L1244.83 1287.93 L1246.40 1286.66 L1247.97 1285.40 L1249.55 1284.15 L1251.13 1282.90 L1252.73 1281.67 L1254.33 1280.45 L1255.95 1279.23 L1257.57 1278.03 L1259.20 1276.84 L1260.84 1275.66 L1262.50 1274.49" stroke="#eeb63c" stroke-width="2.2" fill="none" stroke-linejoin="round" stroke-linecap="round"/>
<path d="M933.62 1275.49 L933.60 1277.49 L933.60 1279.50 L933.63 1281.51 L933.67 1283.52 L933.75 1285.54 L933.84 1287.55 L933.97 1289.56 L934.13 1291.57 L934.33 1293.57 L934.56 1295.57 L934.83 1297.56 L935.14 1299.55 L935.49 1301.52 L935.89 1303.48 L936.34 1305.43 L936.84 1307.37 L937.38 1309.29 L937.98 1311.20 L938.62 1313.09 L939.30 1314.97 L940.03 1316.83 L940.80 1318.68 L941.61 1320.51 L942.45 1322.33 L943.34 1324.13 L944.26 1325.92 L945.21 1327.69 L946.19 1329.45 L947.21 1331.19 L948.25 1332.91 L949.32 1334.62 L950.42 1336.31 L951.54 1337.99 L952.68 1339.64 L953.84 1341.29 L955.03 1342.91 L956.23 1344.52 L957.45 1346.12 L958.69 1347.70 L959.95 1349.27 L961.22 1350.83 L962.51 1352.37 L963.81 1353.90 L965.13 1355.42 L966.46 1356.93 L967.80 1358.43 L969.16 1359.93 L970.52 1361.41 L971.90 1362.88 L973.28 1364.35 L974.67 1365.81 L976.07 1367.26 L977.47 1368.70 L978.88 1370.14 L980.30 1371.58 L981.72 1373.01 L983.14 1374.44 L984.56 1375.87 L985.99 1377.29 L987.41 1378.71 L988.84 1380.13 L990.27 1381.55 L991.69 1382.97 L993.11 1384.39 L994.53 1385.81 L995.94 1387.23 L997.35 1388.66 L998.75 1390.08 L1000.15 1391.51 L1001.54 1392.94 L1002.93 1394.37 L1004.31 1395.81 L1005.70 1397.24 L1007.08 1398.67 L1008.46 1400.11 L1009.83 1401.54 L1011.21 1402.97 L1012.59 1404.40 L1013.97 1405.82 L1015.35 1407.24 L1016.74 1408.66 L1018.12 1410.08 L1019.51 1411.49 L1020.91 1412.90 L1022.31 1414.30 L1023.71 1415.69 L1025.13 1417.08 L1026.54 1418.46 L1027.97 1419.84 L1029.40 1421.21 L1030.84 1422.56 L1032.30 1423.92 L1033.76 1425.26 L1035.23 1426.59 L1036.71 1427.91 L1038.21 1429.22 L1039.71 1430.53 L1041.23 1431.82 L1042.77 1433.09 L1044.31 1434.36 L1045.88 1435.61 L1047.45 1436.85 L1049.05 1438.08 L1050.66 1439.29 L1052.29 1440.49 L1053.93 1441.67 L1055.59 1442.85 L1057.25 1444.01 L1058.94 1445.16 L1060.63 1446.31 L1062.33 1447.44 L1064.05 1448.57 L1065.77 1449.69 L1067.50 1450.80 L1069.23 1451.91 L1070.97 1453.01 L1072.72 1454.11 L1074.47 1455.21 L1076.22 1456.30 L1077.97 1457.39 L1079.73 1458.48 L1081.48 1459.58 L1083.23 1460.67 L1084.98 1461.77 L1086.73 1462.86 L1088.48 1463.97 L1090.21 1465.07 L1091.95 1466.18 L1093.67 1467.30 L1095.39 1468.42 L1097.10 1469.55 L1098.80 1470.69 L1100.49 1471.84 L1102.17 1473.00 L1103.84 1474.17 L1105.49 1475.35 L1107.12 1476.55 L1108.75 1477.75 L1110.35 1478.97 L1111.94 1480.21 L1113.52 1481.46 L1115.08 1482.72 L1116.62 1483.99 L1118.15 1485.28 L1119.66 1486.58 L1121.16 1487.89 L1122.64 1489.22 L1124.11 1490.55 L1125.56 1491.90 L1127.00 1493.27 L1128.43 1494.64 L1129.84 1496.03 L1131.23 1497.43 L1132.62 1498.84 L1133.98 1500.26 L1135.34 1501.69 L1136.68 1503.14 L1138.00 1504.59 L1139.32 1506.06 L1140.61 1507.54 L1141.90 1509.03 L1143.17 1510.53 L1144.43 1512.04 L1145.68 1513.56 L1146.91 1515.09 L1148.13 1516.63 L1149.34 1518.18 L1150.54 1519.74 L1151.72 1521.31 L1152.89 1522.89 L1154.05 1524.48 L1155.20 1526.08 L1156.34 1527.69 L1157.46 1529.31 L1158.57 1530.94 L1159.67 1532.57 L1160.76 1534.22 L1161.84 1535.87 L1162.90 1537.54 L1163.96 1539.21 L1165.00 1540.89 L1166.03 1542.57 L1167.06 1544.27 L1168.07 1545.97 L1169.07 1547.68 L1170.06 1549.40 L1171.04 1551.13 L1172.01 1552.86 L1172.97 1554.60 L1173.92 1556.35 L1174.86 1558.11 L1175.79 1559.87 L1176.72 1561.64 L1177.63 1563.41 L1178.53 1565.20 L1179.42 1566.98 L1180.31 1568.78 L1181.18 1570.58 L1182.05 1572.39 L1182.91 1574.20 L1183.75 1576.02 L1184.59 1577.84 L1185.43 1579.67 L1186.25 1581.51 L1187.07 1583.35 L1187.87 1585.20 L1188.67 1587.05 L1189.46 1588.90 L1190.25 1590.76 L1191.02 1592.63 L1191.79 1594.50 L1192.55 1596.37 L1193.31 1598.25 L1194.05 1600.13 L1194.79 1602.02 L1195.53 1603.91 L1196.25 1605.80 L1196.97 1607.70 L1197.69 1609.60 L1198.39 1611.50 L1199.09 1613.41 L1199.79 1615.32 L1200.48 1617.24 L1201.16 1619.15 L1201.83 1621.07 L1202.50 1622.99 L1203.17 1624.92 L1203.83 1626.84 L1204.48 1628.77 L1205.13 1630.70 L1205.77 1632.64 L1206.41 1634.57 L1207.05 1636.51 L1207.68 1638.45 L1208.30 1640.39 L1208.92 1642.33 L1209.53 1644.27 L1210.14 1646.21 L1210.75 1648.15 L1211.35 1650.10 L1211.95 1652.05 L1212.55 1653.99 L1213.14 1655.94 L1213.73 1657.88 L1214.31 1659.83 L1214.89 1661.78 L1215.47 1663.73 L1216.04 1665.67 L1216.61 1667.62 L1217.18 1669.56 L1217.74 1671.51 L1218.31 1673.45 L1218.87 1675.40 L1219.42 1677.34 L1219.98 1679.28 L1220.53 1681.22 L1221.08 1683.16 L1221.63 1685.10 L1222.18 1687.04 L1222.72 1688.97 L1223.27 1690.90 L1223.81 1692.83 L1224.35 1694.76 L1224.89 1696.69 L1225.43 1698.61 L1225.96 1700.54 L1226.50 1702.45 L1227.03 1704.37 L1227.57 1706.28 L1228.10 1708.19 L1228.64 1710.10 L1229.17 1712.00 L1229.70 1713.91 L1230.23 1715.80 L1230.77 1717.70 L1231.30 1719.59 L1231.83 1721.47 L1232.37 1723.35 L1232.90 1725.23 L1233.43 1727.10 L1233.97 1728.97" stroke="#0e4a20" stroke-width="2.2" fill="none" stroke-linejoin="round" stroke-linecap="round"/>
<path d="M933.53 1275.53 L933.63 1277.52 L933.71 1279.51 L933.75 1281.51 L933.78 1283.52 L933.79 1285.53 L933.79 1287.54 L933.78 1289.56 L933.77 1291.58 L933.76 1293.60 L933.75 1295.62 L933.76 1297.65 L933.77 1299.67 L933.81 1301.69 L933.87 1303.71 L933.95 1305.73 L934.07 1307.74 L934.22 1309.75 L934.41 1311.76 L934.64 1313.76 L934.91 1315.75 L935.24 1317.73 L935.61 1319.70 L936.03 1321.66 L936.50 1323.61 L937.02 1325.54 L937.60 1327.45 L938.23 1329.35 L938.92 1331.22 L939.67 1333.08 L940.47 1334.91 L941.33 1336.72 L942.23 1338.51 L943.17 1340.28 L944.15 1342.03 L945.17 1343.76 L946.23 1345.46 L947.32 1347.14 L948.44 1348.80 L949.58 1350.44 L950.76 1352.06 L951.97 1353.66 L953.20 1355.24 L954.45 1356.81 L955.73 1358.36 L957.03 1359.89 L958.35 1361.41 L959.69 1362.92 L961.05 1364.42 L962.43 1365.90 L963.81 1367.37 L965.22 1368.84 L966.64 1370.29 L968.06 1371.74 L969.50 1373.18 L970.95 1374.61 L972.40 1376.04 L973.86 1377.46 L975.33 1378.88 L976.80 1380.30 L978.27 1381.71 L979.74 1383.12 L981.21 1384.54 L982.68 1385.95 L984.14 1387.37 L985.60 1388.78 L987.06 1390.20 L988.51 1391.63 L989.95 1393.06 L991.38 1394.49 L992.80 1395.93 L994.22 1397.38 L995.62 1398.83 L997.02 1400.28 L998.41 1401.74 L999.80 1403.19 L1001.19 1404.65 L1002.57 1406.11 L1003.94 1407.57 L1005.32 1409.03 L1006.69 1410.50 L1008.07 1411.95 L1009.44 1413.41 L1010.81 1414.87 L1012.18 1416.32 L1013.56 1417.77 L1014.94 1419.21 L1016.32 1420.65 L1017.71 1422.08 L1019.10 1423.51 L1020.50 1424.94 L1021.90 1426.35 L1023.31 1427.76 L1024.73 1429.16 L1026.16 1430.55 L1027.59 1431.93 L1029.04 1433.30 L1030.50 1434.66 L1031.96 1436.01 L1033.44 1437.35 L1034.94 1438.68 L1036.44 1439.99 L1037.97 1441.29 L1039.50 1442.57 L1041.05 1443.85 L1042.62 1445.11 L1044.19 1446.36 L1045.78 1447.59 L1047.38 1448.82 L1048.99 1450.04 L1050.61 1451.25 L1052.24 1452.45 L1053.87 1453.65 L1055.51 1454.84 L1057.16 1456.02 L1058.82 1457.21 L1060.47 1458.38 L1062.13 1459.56 L1063.79 1460.73 L1065.46 1461.90 L1067.12 1463.07 L1068.79 1464.24 L1070.45 1465.41 L1072.12 1466.59 L1073.78 1467.76 L1075.43 1468.94 L1077.09 1470.13 L1078.73 1471.32 L1080.37 1472.52 L1082.01 1473.72 L1083.64 1474.93 L1085.25 1476.15 L1086.86 1477.38 L1088.46 1478.62 L1090.05 1479.87 L1091.63 1481.13 L1093.19 1482.41 L1094.74 1483.70 L1096.28 1485.00 L1097.80 1486.31 L1099.31 1487.64 L1100.81 1488.98 L1102.29 1490.33 L1103.76 1491.69 L1105.22 1493.07 L1106.66 1494.46 L1108.09 1495.86 L1109.51 1497.27 L1110.92 1498.70 L1112.31 1500.13 L1113.69 1501.58 L1115.05 1503.04 L1116.41 1504.51 L1117.75 1505.99 L1119.07 1507.49 L1120.39 1508.99 L1121.69 1510.50 L1122.98 1512.03 L1124.26 1513.56 L1125.52 1515.11 L1126.77 1516.66 L1128.01 1518.23 L1129.24 1519.81 L1130.45 1521.39 L1131.65 1522.99 L1132.84 1524.59 L1134.02 1526.21 L1135.18 1527.83 L1136.33 1529.46 L1137.47 1531.11 L1138.60 1532.76 L1139.72 1534.42 L1140.82 1536.08 L1141.91 1537.76 L1142.99 1539.45 L1144.06 1541.14 L1145.11 1542.84 L1146.16 1544.55 L1147.19 1546.27 L1148.21 1547.99 L1149.22 1549.72 L1150.21 1551.46 L1151.20 1553.21 L1152.17 1554.96 L1153.13 1556.73 L1154.08 1558.49 L1155.02 1560.27 L1155.94 1562.05 L1156.86 1563.84 L1157.76 1565.63 L1158.65 1567.43 L1159.53 1569.24 L1160.40 1571.05 L1161.26 1572.87 L1162.11 1574.70 L1162.94 1576.53 L1163.77 1578.36 L1164.58 1580.20 L1165.38 1582.05 L1166.17 1583.90 L1166.95 1585.75 L1167.72 1587.62 L1168.48 1589.48 L1169.22 1591.35 L1169.96 1593.22 L1170.68 1595.10 L1171.40 1596.99 L1172.10 1598.87 L1172.79 1600.76 L1173.47 1602.66 L1174.14 1604.55 L1174.81 1606.46 L1175.46 1608.36 L1176.10 1610.27 L1176.73 1612.18 L1177.36 1614.10 L1177.97 1616.01 L1178.58 1617.93 L1179.17 1619.86 L1179.77 1621.78 L1180.35 1623.71 L1180.92 1625.64 L1181.49 1627.58 L1182.05 1629.51 L1182.61 1631.45 L1183.16 1633.39 L1183.70 1635.33 L1184.23 1637.28 L1184.77 1639.23 L1185.29 1641.17 L1185.81 1643.12 L1186.33 1645.07 L1186.84 1647.03 L1187.34 1648.98 L1187.85 1650.94 L1188.35 1652.89 L1188.84 1654.85 L1189.34 1656.81 L1189.83 1658.77 L1190.31 1660.73 L1190.80 1662.69 L1191.28 1664.65 L1191.76 1666.61 L1192.24 1668.57 L1192.72 1670.53 L1193.19 1672.50 L1193.67 1674.46 L1194.14 1676.42 L1194.62 1678.38 L1195.09 1680.34 L1195.57 1682.30 L1196.04 1684.26 L1196.52 1686.22 L1197.00 1688.18 L1197.48 1690.14 L1197.96 1692.10 L1198.44 1694.06 L1198.92 1696.01 L1199.41 1697.97 L1199.90 1699.92 L1200.39 1701.87 L1200.89 1703.82 L1201.38 1705.77 L1201.89 1707.72 L1202.39 1709.66 L1202.90 1711.60 L1203.42 1713.55 L1203.94 1715.48 L1204.46 1717.42 L1204.99 1719.36 L1205.53 1721.29 L1206.07 1723.22 L1206.61 1725.14 L1207.17 1727.07 L1207.73 1728.99" stroke="#b2bd3c" stroke-width="2.2" fill="none" stroke-linejoin="round" stroke-linecap="round"/>
<path d="M933.46 1275.59 L933.51 1277.55 L933.54 1279.52 L933.55 1281.50 L933.54 1283.49 L933.52 1285.49 L933.48 1287.50 L933.44 1289.51 L933.39 1291.53 L933.33 1293.56 L933.28 1295.58 L933.23 1297.61 L933.19 1299.65 L933.16 1301.68 L933.15 1303.72 L933.15 1305.75 L933.17 1307.78 L933.21 1309.81 L933.28 1311.84 L933.37 1313.86 L933.50 1315.88 L933.65 1317.89 L933.85 1319.89 L934.08 1321.87 L934.35 1323.85 L934.66 1325.82 L935.02 1327.77 L935.42 1329.70 L935.87 1331.62 L936.38 1333.52 L936.94 1335.40 L937.55 1337.27 L938.21 1339.11 L938.92 1340.94 L939.68 1342.75 L940.48 1344.55 L941.33 1346.33 L942.21 1348.09 L943.15 1349.83 L944.11 1351.56 L945.12 1353.28 L946.17 1354.98 L947.24 1356.67 L948.35 1358.34 L949.49 1360.00 L950.67 1361.65 L951.87 1363.28 L953.09 1364.90 L954.34 1366.51 L955.61 1368.11 L956.91 1369.70 L958.23 1371.27 L959.56 1372.84 L960.91 1374.39 L962.27 1375.94 L963.65 1377.48 L965.04 1379.01 L966.44 1380.52 L967.85 1382.04 L969.27 1383.54 L970.69 1385.04 L972.12 1386.53 L973.55 1388.01 L974.98 1389.49 L976.41 1390.96 L977.85 1392.42 L979.29 1393.88 L980.73 1395.33 L982.17 1396.78 L983.61 1398.22 L985.06 1399.66 L986.51 1401.09 L987.95 1402.51 L989.40 1403.93 L990.86 1405.35 L992.31 1406.76 L993.76 1408.17 L995.22 1409.57 L996.68 1410.97 L998.14 1412.37 L999.60 1413.76 L1001.06 1415.15 L1002.52 1416.54 L1003.98 1417.92 L1005.44 1419.30 L1006.91 1420.68 L1008.37 1422.05 L1009.84 1423.42 L1011.30 1424.79 L1012.77 1426.16 L1014.24 1427.52 L1015.71 1428.88 L1017.17 1430.25 L1018.64 1431.61 L1020.11 1432.96 L1021.58 1434.32 L1023.05 1435.68 L1024.52 1437.03 L1025.99 1438.39 L1027.45 1439.74 L1028.92 1441.10 L1030.39 1442.45 L1031.86 1443.80 L1033.32 1445.16 L1034.79 1446.51 L1036.26 1447.86 L1037.72 1449.22 L1039.19 1450.57 L1040.65 1451.93 L1042.11 1453.29 L1043.58 1454.64 L1045.04 1456.00 L1046.50 1457.37 L1047.96 1458.73 L1049.42 1460.09 L1050.87 1461.46 L1052.33 1462.83 L1053.78 1464.20 L1055.24 1465.58 L1056.69 1466.95 L1058.14 1468.33 L1059.59 1469.72 L1061.03 1471.10 L1062.48 1472.49 L1063.92 1473.88 L1065.36 1475.28 L1066.80 1476.68 L1068.24 1478.09 L1069.67 1479.49 L1071.11 1480.91 L1072.54 1482.32 L1073.97 1483.75 L1075.39 1485.17 L1076.81 1486.61 L1078.23 1488.04 L1079.65 1489.49 L1081.05 1490.93 L1082.46 1492.39 L1083.85 1493.85 L1085.25 1495.31 L1086.63 1496.79 L1088.01 1498.27 L1089.38 1499.75 L1090.74 1501.25 L1092.09 1502.75 L1093.44 1504.25 L1094.77 1505.77 L1096.09 1507.29 L1097.41 1508.82 L1098.71 1510.36 L1100.00 1511.91 L1101.28 1513.47 L1102.55 1515.03 L1103.81 1516.60 L1105.05 1518.19 L1106.28 1519.78 L1107.49 1521.38 L1108.69 1522.99 L1109.88 1524.62 L1111.05 1526.25 L1112.20 1527.89 L1113.34 1529.54 L1114.46 1531.20 L1115.56 1532.88 L1116.65 1534.56 L1117.71 1536.26 L1118.76 1537.97 L1119.80 1539.69 L1120.81 1541.41 L1121.81 1543.15 L1122.79 1544.90 L1123.75 1546.66 L1124.70 1548.43 L1125.64 1550.20 L1126.55 1551.99 L1127.46 1553.78 L1128.34 1555.58 L1129.22 1557.39 L1130.08 1559.21 L1130.92 1561.04 L1131.76 1562.87 L1132.58 1564.71 L1133.38 1566.55 L1134.18 1568.40 L1134.96 1570.26 L1135.73 1572.12 L1136.49 1573.99 L1137.24 1575.86 L1137.97 1577.74 L1138.70 1579.63 L1139.41 1581.51 L1140.12 1583.40 L1140.82 1585.30 L1141.50 1587.20 L1142.18 1589.10 L1142.85 1591.00 L1143.51 1592.91 L1144.17 1594.82 L1144.81 1596.73 L1145.45 1598.64 L1146.08 1600.56 L1146.70 1602.47 L1147.32 1604.39 L1147.93 1606.31 L1148.53 1608.23 L1149.13 1610.16 L1149.72 1612.08 L1150.30 1614.01 L1150.88 1615.94 L1151.45 1617.87 L1152.02 1619.80 L1152.58 1621.73 L1153.14 1623.67 L1153.69 1625.60 L1154.23 1627.54 L1154.77 1629.48 L1155.31 1631.42 L1155.84 1633.36 L1156.37 1635.30 L1156.89 1637.25 L1157.41 1639.19 L1157.93 1641.14 L1158.44 1643.08 L1158.95 1645.03 L1159.45 1646.98 L1159.95 1648.93 L1160.45 1650.88 L1160.95 1652.83 L1161.44 1654.78 L1161.94 1656.73 L1162.43 1658.68 L1162.91 1660.63 L1163.40 1662.59 L1163.88 1664.54 L1164.37 1666.49 L1164.85 1668.45 L1165.33 1670.40 L1165.80 1672.36 L1166.28 1674.32 L1166.76 1676.27 L1167.24 1678.23 L1167.71 1680.18 L1168.19 1682.14 L1168.67 1684.10 L1169.14 1686.05 L1169.62 1688.01 L1170.10 1689.96 L1170.57 1691.92 L1171.05 1693.88 L1171.53 1695.83 L1172.01 1697.79 L1172.50 1699.74 L1172.98 1701.70 L1173.47 1703.65 L1173.95 1705.60 L1174.44 1707.56 L1174.93 1709.51 L1175.43 1711.46 L1175.93 1713.41 L1176.42 1715.36 L1176.93 1717.31 L1177.43 1719.26 L1177.94 1721.21 L1178.45 1723.16 L1178.97 1725.11 L1179.49 1727.05 L1180.01 1729.00" stroke="#fc5a56" stroke-width="2.2" fill="none" stroke-linejoin="round" stroke-linecap="round"/>
<path d="M933.32 1275.53 L933.43 1277.52 L933.50 1279.51 L933.55 1281.51 L933.58 1283.51 L933.60 1285.52 L933.60 1287.53 L933.59 1289.55 L933.58 1291.56 L933.57 1293.58 L933.56 1295.60 L933.56 1297.62 L933.58 1299.64 L933.61 1301.66 L933.65 1303.68 L933.73 1305.70 L933.83 1307.71 L933.96 1309.72 L934.13 1311.73 L934.34 1313.73 L934.59 1315.72 L934.89 1317.71 L935.23 1319.68 L935.62 1321.65 L936.06 1323.60 L936.55 1325.54 L937.10 1327.46 L937.70 1329.36 L938.36 1331.25 L939.07 1333.11 L939.85 1334.95 L940.67 1336.77 L941.55 1338.57 L942.47 1340.35 L943.43 1342.10 L944.43 1343.84 L945.47 1345.55 L946.54 1347.23 L947.64 1348.90 L948.78 1350.54 L949.94 1352.17 L951.14 1353.78 L952.36 1355.37 L953.60 1356.94 L954.87 1358.49 L956.17 1360.03 L957.48 1361.56 L958.81 1363.07 L960.17 1364.57 L961.54 1366.06 L962.92 1367.53 L964.32 1369.00 L965.74 1370.46 L967.16 1371.90 L968.60 1373.35 L970.05 1374.78 L971.50 1376.21 L972.96 1377.63 L974.43 1379.05 L975.89 1380.47 L977.37 1381.88 L978.84 1383.30 L980.31 1384.71 L981.78 1386.12 L983.25 1387.53 L984.71 1388.95 L986.16 1390.37 L987.61 1391.79 L989.05 1393.22 L990.48 1394.65 L991.90 1396.09 L993.32 1397.53 L994.72 1398.98 L996.12 1400.43 L997.50 1401.89 L998.89 1403.34 L1000.27 1404.80 L1001.64 1406.26 L1003.01 1407.73 L1004.38 1409.19 L1005.74 1410.65 L1007.10 1412.11 L1008.47 1413.57 L1009.83 1415.02 L1011.19 1416.48 L1012.56 1417.93 L1013.93 1419.38 L1015.30 1420.82 L1016.67 1422.26 L1018.05 1423.69 L1019.44 1425.12 L1020.83 1426.54 L1022.23 1427.95 L1023.64 1429.35 L1025.05 1430.75 L1026.48 1432.14 L1027.91 1433.52 L1029.36 1434.88 L1030.82 1436.24 L1032.29 1437.59 L1033.77 1438.92 L1035.27 1440.24 L1036.78 1441.55 L1038.31 1442.85 L1039.85 1444.13 L1041.41 1445.40 L1042.98 1446.66 L1044.57 1447.90 L1046.16 1449.14 L1047.77 1450.37 L1049.39 1451.59 L1051.01 1452.80 L1052.65 1454.00 L1054.29 1455.20 L1055.94 1456.40 L1057.59 1457.59 L1059.24 1458.77 L1060.90 1459.96 L1062.56 1461.14 L1064.22 1462.32 L1065.89 1463.51 L1067.55 1464.69 L1069.21 1465.88 L1070.87 1467.07 L1072.52 1468.26 L1074.17 1469.46 L1075.81 1470.66 L1077.45 1471.87 L1079.08 1473.08 L1080.70 1474.31 L1082.31 1475.54 L1083.91 1476.78 L1085.50 1478.04 L1087.08 1479.30 L1088.65 1480.58 L1090.20 1481.87 L1091.73 1483.17 L1093.25 1484.49 L1094.76 1485.82 L1096.25 1487.17 L1097.72 1488.53 L1099.18 1489.90 L1100.63 1491.29 L1102.06 1492.69 L1103.47 1494.10 L1104.87 1495.53 L1106.26 1496.96 L1107.63 1498.41 L1108.99 1499.88 L1110.33 1501.35 L1111.66 1502.84 L1112.97 1504.34 L1114.27 1505.85 L1115.56 1507.37 L1116.83 1508.90 L1118.09 1510.45 L1119.33 1512.00 L1120.56 1513.57 L1121.78 1515.15 L1122.98 1516.74 L1124.17 1518.33 L1125.35 1519.94 L1126.51 1521.56 L1127.66 1523.19 L1128.80 1524.83 L1129.92 1526.48 L1131.03 1528.13 L1132.12 1529.80 L1133.21 1531.48 L1134.28 1533.16 L1135.33 1534.86 L1136.38 1536.56 L1137.41 1538.27 L1138.43 1539.99 L1139.44 1541.72 L1140.43 1543.45 L1141.41 1545.20 L1142.38 1546.95 L1143.34 1548.71 L1144.29 1550.47 L1145.22 1552.25 L1146.14 1554.03 L1147.05 1555.82 L1147.95 1557.61 L1148.83 1559.41 L1149.71 1561.22 L1150.57 1563.03 L1151.42 1564.85 L1152.26 1566.68 L1153.09 1568.51 L1153.90 1570.35 L1154.71 1572.19 L1155.50 1574.04 L1156.28 1575.89 L1157.06 1577.75 L1157.82 1579.62 L1158.57 1581.48 L1159.30 1583.36 L1160.03 1585.23 L1160.75 1587.12 L1161.46 1589.00 L1162.15 1590.89 L1162.84 1592.78 L1163.51 1594.68 L1164.18 1596.58 L1164.83 1598.48 L1165.48 1600.39 L1166.11 1602.30 L1166.73 1604.21 L1167.35 1606.13 L1167.95 1608.05 L1168.55 1609.97 L1169.14 1611.89 L1169.72 1613.82 L1170.29 1615.75 L1170.85 1617.68 L1171.41 1619.61 L1171.96 1621.55 L1172.50 1623.49 L1173.03 1625.43 L1173.56 1627.37 L1174.08 1629.31 L1174.60 1631.26 L1175.11 1633.20 L1175.61 1635.15 L1176.11 1637.10 L1176.60 1639.05 L1177.09 1641.01 L1177.57 1642.96 L1178.05 1644.92 L1178.53 1646.87 L1179.00 1648.83 L1179.47 1650.79 L1179.93 1652.75 L1180.40 1654.71 L1180.86 1656.67 L1181.31 1658.63 L1181.77 1660.59 L1182.22 1662.56 L1182.67 1664.52 L1183.12 1666.48 L1183.57 1668.45 L1184.02 1670.41 L1184.46 1672.38 L1184.91 1674.34 L1185.36 1676.30 L1185.80 1678.27 L1186.25 1680.23 L1186.70 1682.19 L1187.15 1684.16 L1187.60 1686.12 L1188.05 1688.08 L1188.50 1690.04 L1188.96 1692.00 L1189.41 1693.96 L1189.87 1695.92 L1190.34 1697.88 L1190.80 1699.83 L1191.27 1701.79 L1191.74 1703.74 L1192.22 1705.69 L1192.70 1707.64 L1193.19 1709.59 L1193.68 1711.54 L1194.17 1713.49 L1194.67 1715.43 L1195.17 1717.38 L1195.68 1719.32 L1196.20 1721.26 L1196.72 1723.19 L1197.25 1725.13 L1197.79 1727.06 L1198.33 1728.99" stroke="#eeb63c" stroke-width="2.2" fill="none" stroke-linejoin="round" stroke-linecap="round"/>
<rect x="168.3" y="57.6" width="260.40" height="43.60" fill="#fff" stroke="#8c8c8c" stroke-width="1.8"/>
<path d="M171.2 76.9H234" stroke="#5e5e5e" stroke-width="2.4"/>
<text x="240.1" y="85.8" font-size="28">Li(NiCoMn)<tspan dy="7.5" font-size="19">1</tspan><tspan dy="-7.5">O</tspan><tspan dy="7.5" font-size="19">2</tspan></text>
<rect x="902.4" y="60.7" width="318.70" height="43.60" fill="#fff" stroke="#8c8c8c" stroke-width="1.8"/>
<path d="M905.9 80H970" stroke="#1a62d4" stroke-width="2.4"/>
<text x="976.1" y="89.2" font-size="28">Li(NiCoMnAlZn)<tspan dy="7.5" font-size="19">1</tspan><tspan dy="-7.5">O</tspan><tspan dy="7.5" font-size="19">2</tspan></text>
<rect x="166.7" y="671" width="319.80" height="43.40" fill="#fff" stroke="#8c8c8c" stroke-width="1.8"/>
<path d="M170.7 690H234" stroke="#26a060" stroke-width="2.4"/>
<text x="240.8" y="699.4" font-size="28">Li(NiCoMnAlFe)<tspan dy="7.5" font-size="19">1</tspan><tspan dy="-7.5">O</tspan><tspan dy="7.5" font-size="19">2</tspan></text>
<rect x="904.7" y="668.7" width="354.90" height="44.00" fill="#fff" stroke="#8c8c8c" stroke-width="1.8"/>
<path d="M908.3 688.4H971.7" stroke="#b070dc" stroke-width="2.4"/>
<text x="978.1" y="697.7" font-size="28">LiNa(NiCoMnAlFe)<tspan dy="7.5" font-size="19">1</tspan><tspan dy="-7.5">O</tspan><tspan dy="7.5" font-size="19">2</tspan></text>
<rect x="497.6" y="1403.4" width="202.10" height="155.80" fill="#fff" stroke="#8c8c8c" stroke-width="1.8"/>
<path d="M501.5 1426.2H564.4" stroke="#0e4a20" stroke-width="2.4"/>
<text x="570.9" y="1435.5" font-size="28">5<tspan dy="-12" font-size="19">th</tspan><tspan dy="12"> Cycle</tspan></text>
<path d="M501.5 1464.1H564.4" stroke="#b2bd3c" stroke-width="2.4"/>
<text x="570.9" y="1473.4" font-size="28">10<tspan dy="-12" font-size="19">th</tspan><tspan dy="12"> Cycle</tspan></text>
<path d="M501.5 1502.3H564.4" stroke="#efb444" stroke-width="2.4"/>
<text x="570.9" y="1511.6" font-size="28">15<tspan dy="-12" font-size="19">th</tspan><tspan dy="12"> Cycle</tspan></text>
<path d="M501.5 1540.3H564.4" stroke="#fc5e5a" stroke-width="2.4"/>
<text x="570.9" y="1549.6" font-size="28">20<tspan dy="-12" font-size="19">th</tspan><tspan dy="12"> Cycle</tspan></text>
<rect x="1268.6" y="1403.6" width="201.60" height="156.20" fill="#fff" stroke="#8c8c8c" stroke-width="1.8"/>
<path d="M1272.2 1426.4H1333.5" stroke="#0e4a20" stroke-width="2.4"/>
<text x="1341.8" y="1435.7" font-size="28">5<tspan dy="-12" font-size="19">th</tspan><tspan dy="12"> Cycle</tspan></text>
<path d="M1272.2 1465.1H1333.5" stroke="#b2bd3c" stroke-width="2.4"/>
<text x="1341.8" y="1474.4" font-size="28">10<tspan dy="-12" font-size="19">th</tspan><tspan dy="12"> Cycle</tspan></text>
<path d="M1272.2 1502.4H1333.5" stroke="#efb444" stroke-width="2.4"/>
<text x="1341.8" y="1511.7" font-size="28">15<tspan dy="-12" font-size="19">th</tspan><tspan dy="12"> Cycle</tspan></text>
<path d="M1272.2 1540.4H1333.5" stroke="#fc5e5a" stroke-width="2.4"/>
<text x="1341.8" y="1549.7" font-size="28">20<tspan dy="-12" font-size="19">th</tspan><tspan dy="12"> Cycle</tspan></text>
</svg></body></html>
